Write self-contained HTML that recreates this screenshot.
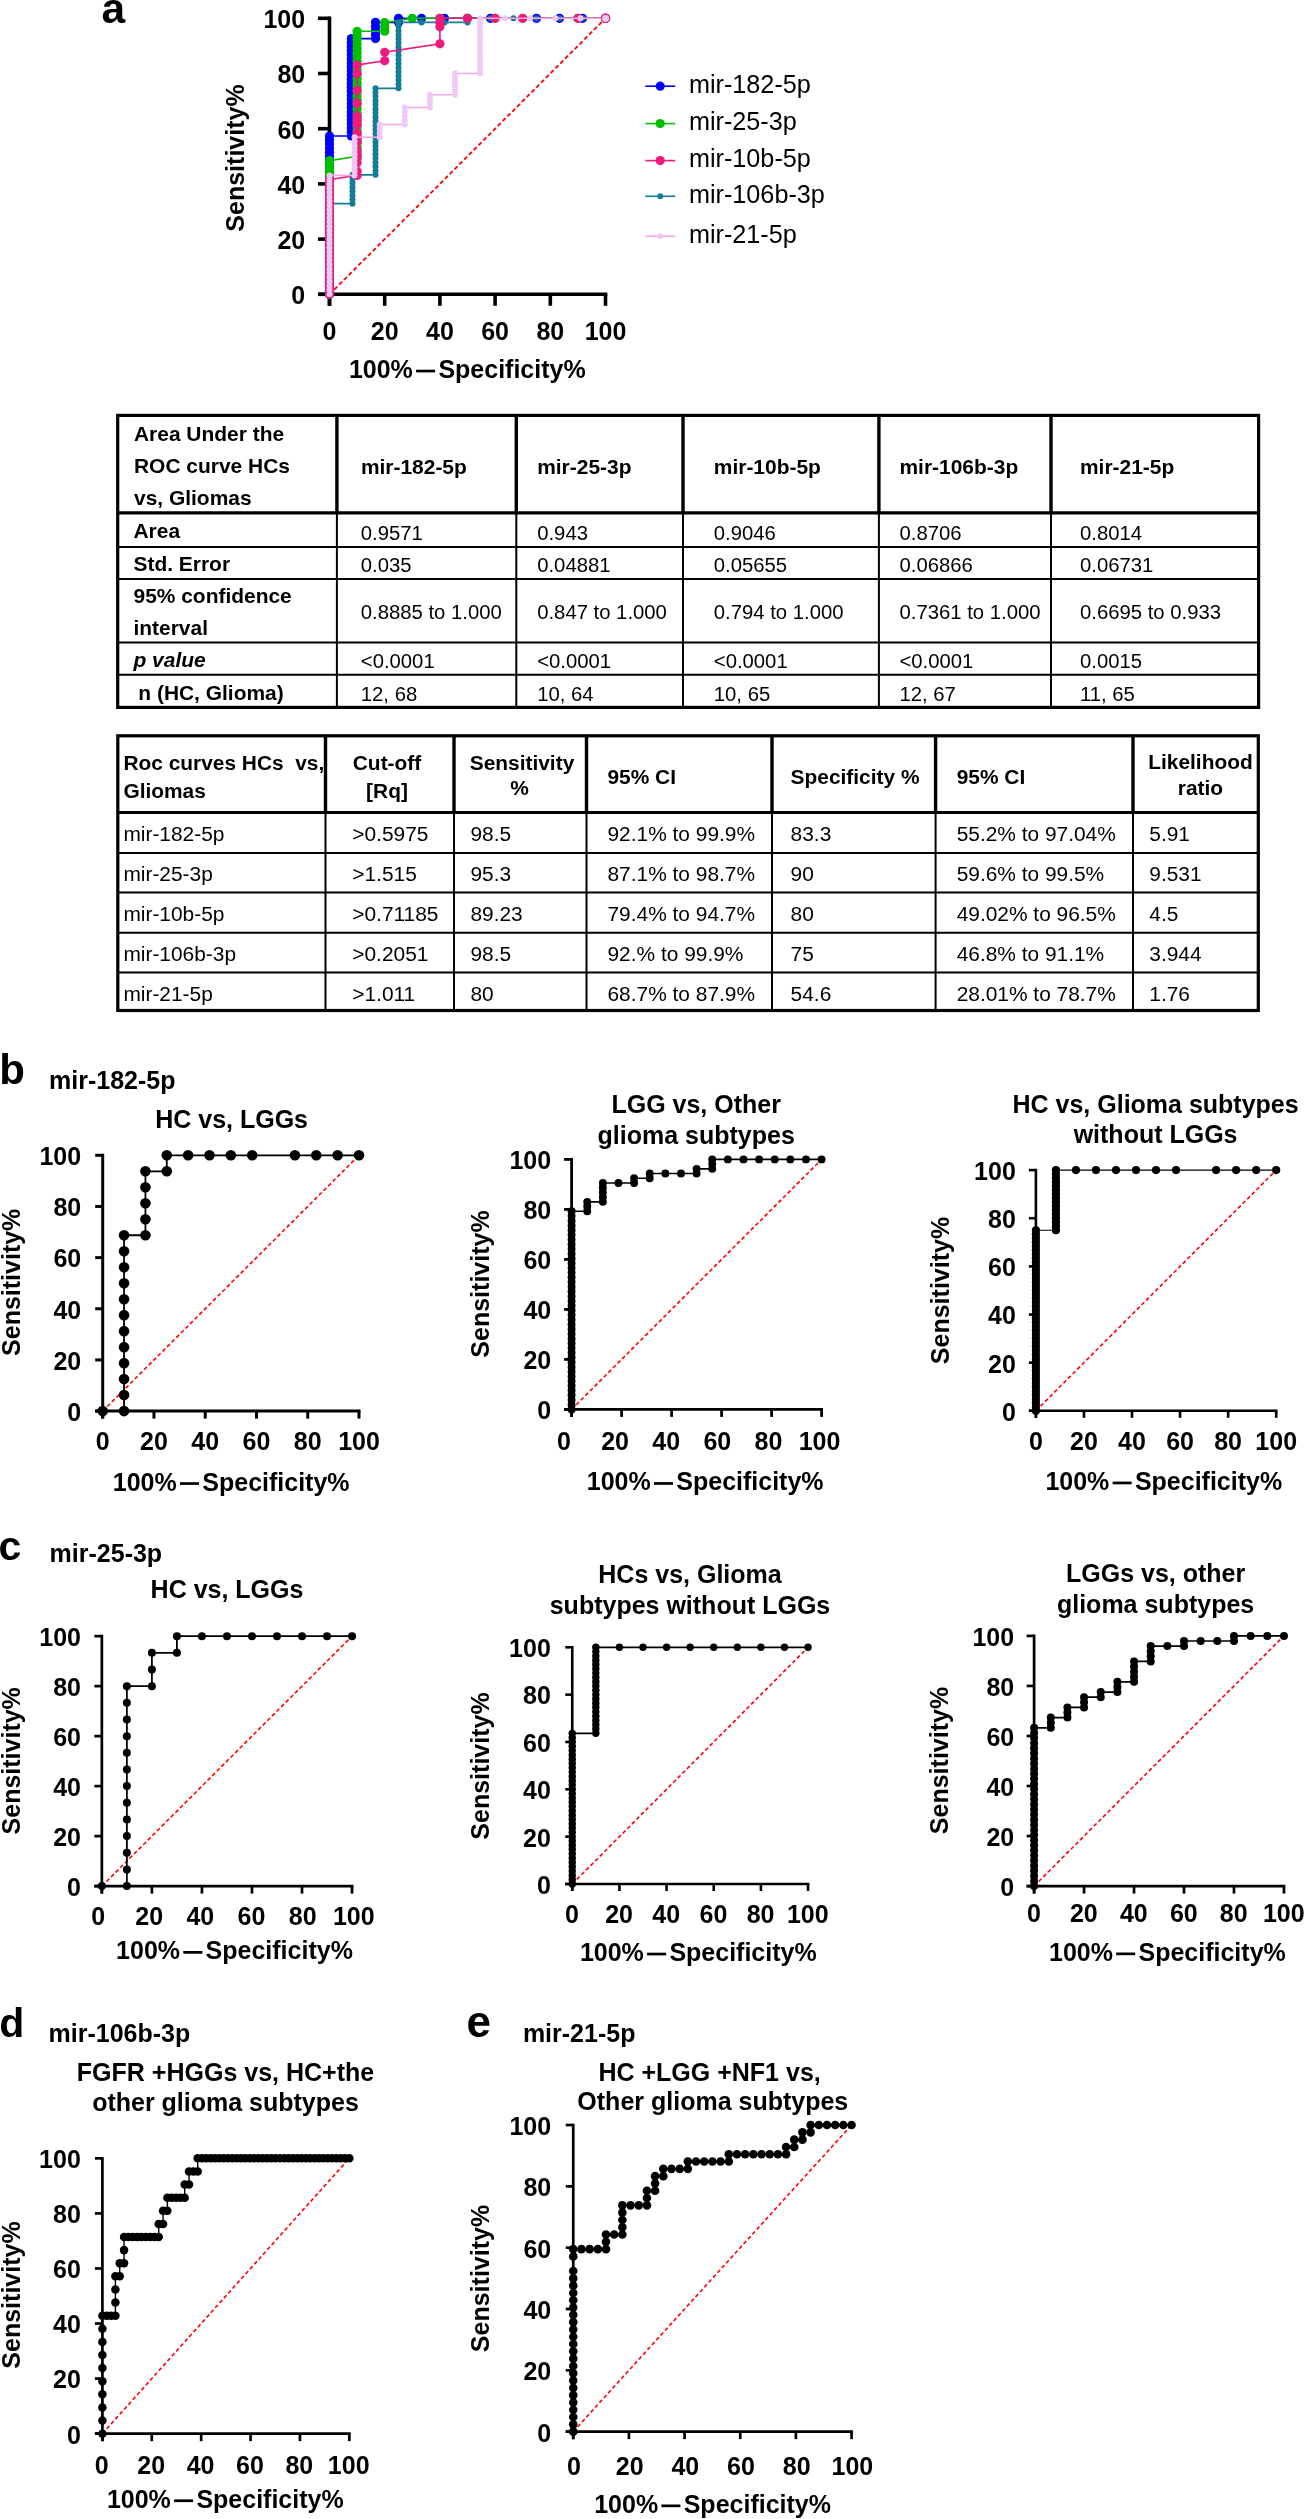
<!DOCTYPE html>
<html><head><meta charset="utf-8"><title>ROC figure</title>
<style>
html,body{margin:0;padding:0;background:#fff;}
body{width:1304px;height:2519px;overflow:hidden;}
svg{display:block;font-family:"Liberation Sans", sans-serif;filter:blur(0.35px);}
</style></head>
<body>
<svg width="1304" height="2519" viewBox="0 0 1304 2519">
<rect width="1304" height="2519" fill="#fff"/>
<text x="101.6" y="23.2" font-size="42.5" font-weight="bold" fill="#000">a</text>
<line x1="329.5" y1="294.3" x2="605.5" y2="18.3" stroke="#ff0000" stroke-width="1.8" stroke-dasharray="4.2,2.6"/>
<line x1="329.5" y1="16.5" x2="329.5" y2="305.8" stroke="#000" stroke-width="3.6" stroke-linecap="butt"/>
<line x1="318" y1="294.3" x2="607.3" y2="294.3" stroke="#000" stroke-width="3.6"/>
<line x1="318" y1="294.3" x2="329.5" y2="294.3" stroke="#000" stroke-width="3.6"/>
<line x1="329.5" y1="294.3" x2="329.5" y2="305.8" stroke="#000" stroke-width="3.6"/>
<line x1="318" y1="239.1" x2="329.5" y2="239.1" stroke="#000" stroke-width="3.6"/>
<line x1="384.7" y1="294.3" x2="384.7" y2="305.8" stroke="#000" stroke-width="3.6"/>
<line x1="318" y1="183.9" x2="329.5" y2="183.9" stroke="#000" stroke-width="3.6"/>
<line x1="439.9" y1="294.3" x2="439.9" y2="305.8" stroke="#000" stroke-width="3.6"/>
<line x1="318" y1="128.7" x2="329.5" y2="128.7" stroke="#000" stroke-width="3.6"/>
<line x1="495.1" y1="294.3" x2="495.1" y2="305.8" stroke="#000" stroke-width="3.6"/>
<line x1="318" y1="73.5" x2="329.5" y2="73.5" stroke="#000" stroke-width="3.6"/>
<line x1="550.3" y1="294.3" x2="550.3" y2="305.8" stroke="#000" stroke-width="3.6"/>
<line x1="318" y1="18.3" x2="329.5" y2="18.3" stroke="#000" stroke-width="3.6"/>
<line x1="605.5" y1="294.3" x2="605.5" y2="305.8" stroke="#000" stroke-width="3.6"/>
<text x="305.2" y="304.15" font-size="25" font-weight="bold" text-anchor="end" fill="#000">0</text>
<text x="305.2" y="248.95" font-size="25" font-weight="bold" text-anchor="end" fill="#000">20</text>
<text x="305.2" y="193.75" font-size="25" font-weight="bold" text-anchor="end" fill="#000">40</text>
<text x="305.2" y="138.55" font-size="25" font-weight="bold" text-anchor="end" fill="#000">60</text>
<text x="305.2" y="83.35" font-size="25" font-weight="bold" text-anchor="end" fill="#000">80</text>
<text x="305.2" y="28.15" font-size="25" font-weight="bold" text-anchor="end" fill="#000">100</text>
<text x="329.5" y="339.5" font-size="25" font-weight="bold" text-anchor="middle" fill="#000">0</text>
<text x="384.7" y="339.5" font-size="25" font-weight="bold" text-anchor="middle" fill="#000">20</text>
<text x="439.9" y="339.5" font-size="25" font-weight="bold" text-anchor="middle" fill="#000">40</text>
<text x="495.1" y="339.5" font-size="25" font-weight="bold" text-anchor="middle" fill="#000">60</text>
<text x="550.3" y="339.5" font-size="25" font-weight="bold" text-anchor="middle" fill="#000">80</text>
<text x="605.5" y="339.5" font-size="25" font-weight="bold" text-anchor="middle" fill="#000">100</text>
<text x="348.9" y="378" font-size="25" font-weight="bold" fill="#000">100%</text>
<rect x="416.1" y="369.7" width="19" height="2.7" fill="#000"/>
<text x="438.4" y="378" font-size="25" font-weight="bold" fill="#000">Specificity%</text>
<text transform="translate(244.3,158) rotate(-90)" x="0" y="0" font-size="25" font-weight="bold" text-anchor="middle">Sensitivity%</text>
<polyline points="329.5,294.3 329.5,290.24 329.5,286.18 329.5,282.12 329.5,278.06 329.5,274.01 329.5,269.95 329.5,265.89 329.5,261.83 329.5,257.77 329.5,253.71 329.5,249.65 329.5,245.59 329.5,241.54 329.5,237.48 329.5,233.42 329.5,229.36 329.5,225.3 329.5,221.24 329.5,217.18 329.5,213.12 329.5,209.06 329.5,205.01 329.5,200.95 329.5,196.89 329.5,192.83 329.5,188.77 329.5,184.71 329.5,180.65 329.5,176.59 329.5,172.54 329.5,168.48 329.5,164.42 329.5,160.36 329.5,156.3 329.5,152.24 329.5,148.18 329.5,144.12 329.5,140.06 329.5,136.01 351.3,136.01 351.3,131.95 351.3,127.89 351.3,123.83 351.3,119.77 351.3,115.71 351.3,111.65 351.3,107.59 351.3,103.54 351.3,99.48 351.3,95.42 351.3,91.36 351.3,87.3 351.3,83.24 351.3,79.18 351.3,75.12 351.3,71.06 351.3,67.01 351.3,62.95 351.3,58.89 351.3,54.83 351.3,50.77 351.3,46.71 351.3,42.65 351.3,38.59 375.5,38.59 375.5,34.54 375.5,30.48 375.5,26.42 375.5,22.36 398.5,22.36 398.5,18.3 421.5,18.3 444.5,18.3 467.5,18.3 490.5,18.3 536.5,18.3 559.5,18.3 582.5,18.3 605.5,18.3" fill="none" stroke="#0000ff" stroke-width="1.6"/>
<g fill="#0000ff"><circle cx="329.5" cy="294.3" r="4.6"/><circle cx="329.5" cy="290.24" r="4.6"/><circle cx="329.5" cy="286.18" r="4.6"/><circle cx="329.5" cy="282.12" r="4.6"/><circle cx="329.5" cy="278.06" r="4.6"/><circle cx="329.5" cy="274.01" r="4.6"/><circle cx="329.5" cy="269.95" r="4.6"/><circle cx="329.5" cy="265.89" r="4.6"/><circle cx="329.5" cy="261.83" r="4.6"/><circle cx="329.5" cy="257.77" r="4.6"/><circle cx="329.5" cy="253.71" r="4.6"/><circle cx="329.5" cy="249.65" r="4.6"/><circle cx="329.5" cy="245.59" r="4.6"/><circle cx="329.5" cy="241.54" r="4.6"/><circle cx="329.5" cy="237.48" r="4.6"/><circle cx="329.5" cy="233.42" r="4.6"/><circle cx="329.5" cy="229.36" r="4.6"/><circle cx="329.5" cy="225.3" r="4.6"/><circle cx="329.5" cy="221.24" r="4.6"/><circle cx="329.5" cy="217.18" r="4.6"/><circle cx="329.5" cy="213.12" r="4.6"/><circle cx="329.5" cy="209.06" r="4.6"/><circle cx="329.5" cy="205.01" r="4.6"/><circle cx="329.5" cy="200.95" r="4.6"/><circle cx="329.5" cy="196.89" r="4.6"/><circle cx="329.5" cy="192.83" r="4.6"/><circle cx="329.5" cy="188.77" r="4.6"/><circle cx="329.5" cy="184.71" r="4.6"/><circle cx="329.5" cy="180.65" r="4.6"/><circle cx="329.5" cy="176.59" r="4.6"/><circle cx="329.5" cy="172.54" r="4.6"/><circle cx="329.5" cy="168.48" r="4.6"/><circle cx="329.5" cy="164.42" r="4.6"/><circle cx="329.5" cy="160.36" r="4.6"/><circle cx="329.5" cy="156.3" r="4.6"/><circle cx="329.5" cy="152.24" r="4.6"/><circle cx="329.5" cy="148.18" r="4.6"/><circle cx="329.5" cy="144.12" r="4.6"/><circle cx="329.5" cy="140.06" r="4.6"/><circle cx="329.5" cy="136.01" r="4.6"/><circle cx="351.3" cy="136.01" r="4.6"/><circle cx="351.3" cy="131.95" r="4.6"/><circle cx="351.3" cy="127.89" r="4.6"/><circle cx="351.3" cy="123.83" r="4.6"/><circle cx="351.3" cy="119.77" r="4.6"/><circle cx="351.3" cy="115.71" r="4.6"/><circle cx="351.3" cy="111.65" r="4.6"/><circle cx="351.3" cy="107.59" r="4.6"/><circle cx="351.3" cy="103.54" r="4.6"/><circle cx="351.3" cy="99.48" r="4.6"/><circle cx="351.3" cy="95.42" r="4.6"/><circle cx="351.3" cy="91.36" r="4.6"/><circle cx="351.3" cy="87.3" r="4.6"/><circle cx="351.3" cy="83.24" r="4.6"/><circle cx="351.3" cy="79.18" r="4.6"/><circle cx="351.3" cy="75.12" r="4.6"/><circle cx="351.3" cy="71.06" r="4.6"/><circle cx="351.3" cy="67.01" r="4.6"/><circle cx="351.3" cy="62.95" r="4.6"/><circle cx="351.3" cy="58.89" r="4.6"/><circle cx="351.3" cy="54.83" r="4.6"/><circle cx="351.3" cy="50.77" r="4.6"/><circle cx="351.3" cy="46.71" r="4.6"/><circle cx="351.3" cy="42.65" r="4.6"/><circle cx="351.3" cy="38.59" r="4.6"/><circle cx="375.5" cy="38.59" r="4.6"/><circle cx="375.5" cy="34.54" r="4.6"/><circle cx="375.5" cy="30.48" r="4.6"/><circle cx="375.5" cy="26.42" r="4.6"/><circle cx="375.5" cy="22.36" r="4.6"/><circle cx="398.5" cy="22.36" r="4.6"/><circle cx="398.5" cy="18.3" r="4.6"/><circle cx="421.5" cy="18.3" r="4.6"/><circle cx="444.5" cy="18.3" r="4.6"/><circle cx="467.5" cy="18.3" r="4.6"/><circle cx="490.5" cy="18.3" r="4.6"/><circle cx="536.5" cy="18.3" r="4.6"/><circle cx="559.5" cy="18.3" r="4.6"/><circle cx="582.5" cy="18.3" r="4.6"/><circle cx="605.5" cy="18.3" r="4.6"/></g>
<polyline points="329.5,294.3 329.5,289.99 329.5,285.68 329.5,281.36 329.5,277.05 329.5,272.74 329.5,268.43 329.5,264.11 329.5,259.8 329.5,255.49 329.5,251.18 329.5,246.86 329.5,242.55 329.5,238.24 329.5,233.93 329.5,229.61 329.5,225.3 329.5,220.99 329.5,216.68 329.5,212.36 329.5,208.05 329.5,203.74 329.5,199.43 329.5,195.11 329.5,190.8 329.5,186.49 329.5,182.18 329.5,177.86 329.5,173.55 329.5,169.24 329.5,164.93 329.5,160.61 357.1,156.3 357.1,151.99 357.1,147.68 357.1,143.36 357.1,139.05 357.1,134.74 357.1,130.43 357.1,126.11 357.1,121.8 357.1,117.49 357.1,113.18 357.1,108.86 357.1,104.55 357.1,100.24 357.1,95.93 357.1,91.61 357.1,87.3 357.1,82.99 357.1,78.68 357.1,74.36 357.1,70.05 357.1,65.74 357.1,61.43 357.1,57.11 357.1,52.8 357.1,48.49 357.1,44.18 357.1,39.86 357.1,35.55 357.1,31.24 384.7,31.24 384.7,26.93 384.7,22.61 412.3,18.3 439.9,18.3 467.5,18.3 495.1,18.3 522.7,18.3 577.9,18.3 605.5,18.3" fill="none" stroke="#00c000" stroke-width="1.6"/>
<g fill="#00c000"><circle cx="329.5" cy="294.3" r="4.6"/><circle cx="329.5" cy="289.99" r="4.6"/><circle cx="329.5" cy="285.68" r="4.6"/><circle cx="329.5" cy="281.36" r="4.6"/><circle cx="329.5" cy="277.05" r="4.6"/><circle cx="329.5" cy="272.74" r="4.6"/><circle cx="329.5" cy="268.43" r="4.6"/><circle cx="329.5" cy="264.11" r="4.6"/><circle cx="329.5" cy="259.8" r="4.6"/><circle cx="329.5" cy="255.49" r="4.6"/><circle cx="329.5" cy="251.18" r="4.6"/><circle cx="329.5" cy="246.86" r="4.6"/><circle cx="329.5" cy="242.55" r="4.6"/><circle cx="329.5" cy="238.24" r="4.6"/><circle cx="329.5" cy="233.93" r="4.6"/><circle cx="329.5" cy="229.61" r="4.6"/><circle cx="329.5" cy="225.3" r="4.6"/><circle cx="329.5" cy="220.99" r="4.6"/><circle cx="329.5" cy="216.68" r="4.6"/><circle cx="329.5" cy="212.36" r="4.6"/><circle cx="329.5" cy="208.05" r="4.6"/><circle cx="329.5" cy="203.74" r="4.6"/><circle cx="329.5" cy="199.43" r="4.6"/><circle cx="329.5" cy="195.11" r="4.6"/><circle cx="329.5" cy="190.8" r="4.6"/><circle cx="329.5" cy="186.49" r="4.6"/><circle cx="329.5" cy="182.18" r="4.6"/><circle cx="329.5" cy="177.86" r="4.6"/><circle cx="329.5" cy="173.55" r="4.6"/><circle cx="329.5" cy="169.24" r="4.6"/><circle cx="329.5" cy="164.93" r="4.6"/><circle cx="329.5" cy="160.61" r="4.6"/><circle cx="357.1" cy="156.3" r="4.6"/><circle cx="357.1" cy="151.99" r="4.6"/><circle cx="357.1" cy="147.68" r="4.6"/><circle cx="357.1" cy="143.36" r="4.6"/><circle cx="357.1" cy="139.05" r="4.6"/><circle cx="357.1" cy="134.74" r="4.6"/><circle cx="357.1" cy="130.43" r="4.6"/><circle cx="357.1" cy="126.11" r="4.6"/><circle cx="357.1" cy="121.8" r="4.6"/><circle cx="357.1" cy="117.49" r="4.6"/><circle cx="357.1" cy="113.18" r="4.6"/><circle cx="357.1" cy="108.86" r="4.6"/><circle cx="357.1" cy="104.55" r="4.6"/><circle cx="357.1" cy="100.24" r="4.6"/><circle cx="357.1" cy="95.93" r="4.6"/><circle cx="357.1" cy="91.61" r="4.6"/><circle cx="357.1" cy="87.3" r="4.6"/><circle cx="357.1" cy="82.99" r="4.6"/><circle cx="357.1" cy="78.68" r="4.6"/><circle cx="357.1" cy="74.36" r="4.6"/><circle cx="357.1" cy="70.05" r="4.6"/><circle cx="357.1" cy="65.74" r="4.6"/><circle cx="357.1" cy="61.43" r="4.6"/><circle cx="357.1" cy="57.11" r="4.6"/><circle cx="357.1" cy="52.8" r="4.6"/><circle cx="357.1" cy="48.49" r="4.6"/><circle cx="357.1" cy="44.18" r="4.6"/><circle cx="357.1" cy="39.86" r="4.6"/><circle cx="357.1" cy="35.55" r="4.6"/><circle cx="357.1" cy="31.24" r="4.6"/><circle cx="384.7" cy="31.24" r="4.6"/><circle cx="384.7" cy="26.93" r="4.6"/><circle cx="384.7" cy="22.61" r="4.6"/><circle cx="412.3" cy="18.3" r="4.6"/><circle cx="439.9" cy="18.3" r="4.6"/><circle cx="467.5" cy="18.3" r="4.6"/><circle cx="495.1" cy="18.3" r="4.6"/><circle cx="522.7" cy="18.3" r="4.6"/><circle cx="577.9" cy="18.3" r="4.6"/><circle cx="605.5" cy="18.3" r="4.6"/></g>
<polyline points="329.5,294.3 329.5,290.18 329.5,286.06 329.5,281.94 329.5,277.82 329.5,273.7 329.5,269.58 329.5,265.46 329.5,261.34 329.5,257.23 329.5,253.11 329.5,248.99 329.5,244.87 329.5,240.75 329.5,236.63 329.5,232.51 329.5,228.39 329.5,224.27 329.5,220.15 329.5,216.03 329.5,211.91 329.5,207.79 329.5,203.67 352.5,203.67 352.5,199.55 352.5,195.43 352.5,191.31 352.5,187.2 352.5,183.08 352.5,178.96 352.5,174.84 375.5,174.84 375.5,170.72 375.5,166.6 375.5,162.48 375.5,158.36 375.5,154.24 375.5,150.12 375.5,146 375.5,141.88 375.5,137.76 375.5,133.64 375.5,129.52 375.5,125.4 375.5,121.29 375.5,117.17 375.5,113.05 375.5,108.93 375.5,104.81 375.5,100.69 375.5,96.57 375.5,92.45 375.5,88.33 398.5,88.33 398.5,84.21 398.5,80.09 398.5,75.97 398.5,71.85 398.5,67.73 398.5,63.61 398.5,59.49 398.5,55.37 398.5,51.26 398.5,47.14 398.5,43.02 398.5,38.9 398.5,34.78 398.5,30.66 398.5,26.54 398.5,22.42 421.5,22.42 444.5,22.42 467.5,22.42 467.5,18.3 490.5,18.3 513.5,18.3 536.5,18.3 559.5,18.3 582.5,18.3 605.5,18.3" fill="none" stroke="#127d94" stroke-width="1.6"/>
<g fill="#127d94"><circle cx="329.5" cy="294.3" r="3"/><circle cx="329.5" cy="290.18" r="3"/><circle cx="329.5" cy="286.06" r="3"/><circle cx="329.5" cy="281.94" r="3"/><circle cx="329.5" cy="277.82" r="3"/><circle cx="329.5" cy="273.7" r="3"/><circle cx="329.5" cy="269.58" r="3"/><circle cx="329.5" cy="265.46" r="3"/><circle cx="329.5" cy="261.34" r="3"/><circle cx="329.5" cy="257.23" r="3"/><circle cx="329.5" cy="253.11" r="3"/><circle cx="329.5" cy="248.99" r="3"/><circle cx="329.5" cy="244.87" r="3"/><circle cx="329.5" cy="240.75" r="3"/><circle cx="329.5" cy="236.63" r="3"/><circle cx="329.5" cy="232.51" r="3"/><circle cx="329.5" cy="228.39" r="3"/><circle cx="329.5" cy="224.27" r="3"/><circle cx="329.5" cy="220.15" r="3"/><circle cx="329.5" cy="216.03" r="3"/><circle cx="329.5" cy="211.91" r="3"/><circle cx="329.5" cy="207.79" r="3"/><circle cx="329.5" cy="203.67" r="3"/><circle cx="352.5" cy="203.67" r="3"/><circle cx="352.5" cy="199.55" r="3"/><circle cx="352.5" cy="195.43" r="3"/><circle cx="352.5" cy="191.31" r="3"/><circle cx="352.5" cy="187.2" r="3"/><circle cx="352.5" cy="183.08" r="3"/><circle cx="352.5" cy="178.96" r="3"/><circle cx="352.5" cy="174.84" r="3"/><circle cx="375.5" cy="174.84" r="3"/><circle cx="375.5" cy="170.72" r="3"/><circle cx="375.5" cy="166.6" r="3"/><circle cx="375.5" cy="162.48" r="3"/><circle cx="375.5" cy="158.36" r="3"/><circle cx="375.5" cy="154.24" r="3"/><circle cx="375.5" cy="150.12" r="3"/><circle cx="375.5" cy="146" r="3"/><circle cx="375.5" cy="141.88" r="3"/><circle cx="375.5" cy="137.76" r="3"/><circle cx="375.5" cy="133.64" r="3"/><circle cx="375.5" cy="129.52" r="3"/><circle cx="375.5" cy="125.4" r="3"/><circle cx="375.5" cy="121.29" r="3"/><circle cx="375.5" cy="117.17" r="3"/><circle cx="375.5" cy="113.05" r="3"/><circle cx="375.5" cy="108.93" r="3"/><circle cx="375.5" cy="104.81" r="3"/><circle cx="375.5" cy="100.69" r="3"/><circle cx="375.5" cy="96.57" r="3"/><circle cx="375.5" cy="92.45" r="3"/><circle cx="375.5" cy="88.33" r="3"/><circle cx="398.5" cy="88.33" r="3"/><circle cx="398.5" cy="84.21" r="3"/><circle cx="398.5" cy="80.09" r="3"/><circle cx="398.5" cy="75.97" r="3"/><circle cx="398.5" cy="71.85" r="3"/><circle cx="398.5" cy="67.73" r="3"/><circle cx="398.5" cy="63.61" r="3"/><circle cx="398.5" cy="59.49" r="3"/><circle cx="398.5" cy="55.37" r="3"/><circle cx="398.5" cy="51.26" r="3"/><circle cx="398.5" cy="47.14" r="3"/><circle cx="398.5" cy="43.02" r="3"/><circle cx="398.5" cy="38.9" r="3"/><circle cx="398.5" cy="34.78" r="3"/><circle cx="398.5" cy="30.66" r="3"/><circle cx="398.5" cy="26.54" r="3"/><circle cx="398.5" cy="22.42" r="3"/><circle cx="421.5" cy="22.42" r="3"/><circle cx="444.5" cy="22.42" r="3"/><circle cx="467.5" cy="22.42" r="3"/><circle cx="467.5" cy="18.3" r="3"/><circle cx="490.5" cy="18.3" r="3"/><circle cx="513.5" cy="18.3" r="3"/><circle cx="536.5" cy="18.3" r="3"/><circle cx="559.5" cy="18.3" r="3"/><circle cx="582.5" cy="18.3" r="3"/><circle cx="605.5" cy="18.3" r="3"/></g>
<polyline points="329.5,294.3 329.5,290.05 329.5,285.81 329.5,281.56 329.5,277.32 329.5,273.07 329.5,268.82 329.5,264.58 329.5,260.33 329.5,256.08 329.5,251.84 329.5,247.59 329.5,243.35 329.5,239.1 329.5,234.85 329.5,230.61 329.5,226.36 329.5,222.12 329.5,217.87 329.5,213.62 329.5,209.38 329.5,205.13 329.5,200.88 329.5,196.64 329.5,192.39 329.5,188.15 329.5,183.9 329.5,179.65 357.1,175.41 357.1,171.16 357.1,162.67 357.1,158.42 357.1,154.18 357.1,149.93 357.1,141.44 357.1,137.19 357.1,132.95 357.1,124.45 357.1,120.21 357.1,115.96 357.1,103.22 357.1,90.48 357.1,73.5 357.1,65.01 384.7,60.76 384.7,52.27 439.9,43.78 439.9,26.79 439.9,22.55 439.9,18.3 467.5,18.3 495.1,18.3 522.7,18.3 577.9,18.3 605.5,18.3" fill="none" stroke="#f0197d" stroke-width="1.6"/>
<g fill="#f0197d"><circle cx="329.5" cy="294.3" r="4.6"/><circle cx="329.5" cy="290.05" r="4.6"/><circle cx="329.5" cy="285.81" r="4.6"/><circle cx="329.5" cy="281.56" r="4.6"/><circle cx="329.5" cy="277.32" r="4.6"/><circle cx="329.5" cy="273.07" r="4.6"/><circle cx="329.5" cy="268.82" r="4.6"/><circle cx="329.5" cy="264.58" r="4.6"/><circle cx="329.5" cy="260.33" r="4.6"/><circle cx="329.5" cy="256.08" r="4.6"/><circle cx="329.5" cy="251.84" r="4.6"/><circle cx="329.5" cy="247.59" r="4.6"/><circle cx="329.5" cy="243.35" r="4.6"/><circle cx="329.5" cy="239.1" r="4.6"/><circle cx="329.5" cy="234.85" r="4.6"/><circle cx="329.5" cy="230.61" r="4.6"/><circle cx="329.5" cy="226.36" r="4.6"/><circle cx="329.5" cy="222.12" r="4.6"/><circle cx="329.5" cy="217.87" r="4.6"/><circle cx="329.5" cy="213.62" r="4.6"/><circle cx="329.5" cy="209.38" r="4.6"/><circle cx="329.5" cy="205.13" r="4.6"/><circle cx="329.5" cy="200.88" r="4.6"/><circle cx="329.5" cy="196.64" r="4.6"/><circle cx="329.5" cy="192.39" r="4.6"/><circle cx="329.5" cy="188.15" r="4.6"/><circle cx="329.5" cy="183.9" r="4.6"/><circle cx="329.5" cy="179.65" r="4.6"/><circle cx="357.1" cy="175.41" r="4.6"/><circle cx="357.1" cy="171.16" r="4.6"/><circle cx="357.1" cy="162.67" r="4.6"/><circle cx="357.1" cy="158.42" r="4.6"/><circle cx="357.1" cy="154.18" r="4.6"/><circle cx="357.1" cy="149.93" r="4.6"/><circle cx="357.1" cy="141.44" r="4.6"/><circle cx="357.1" cy="137.19" r="4.6"/><circle cx="357.1" cy="132.95" r="4.6"/><circle cx="357.1" cy="124.45" r="4.6"/><circle cx="357.1" cy="120.21" r="4.6"/><circle cx="357.1" cy="115.96" r="4.6"/><circle cx="357.1" cy="103.22" r="4.6"/><circle cx="357.1" cy="90.48" r="4.6"/><circle cx="357.1" cy="73.5" r="4.6"/><circle cx="357.1" cy="65.01" r="4.6"/><circle cx="384.7" cy="60.76" r="4.6"/><circle cx="384.7" cy="52.27" r="4.6"/><circle cx="439.9" cy="43.78" r="4.6"/><circle cx="439.9" cy="26.79" r="4.6"/><circle cx="439.9" cy="22.55" r="4.6"/><circle cx="439.9" cy="18.3" r="4.6"/><circle cx="467.5" cy="18.3" r="4.6"/><circle cx="495.1" cy="18.3" r="4.6"/><circle cx="522.7" cy="18.3" r="4.6"/><circle cx="577.9" cy="18.3" r="4.6"/><circle cx="605.5" cy="18.3" r="4.6"/></g>
<polyline points="329.5,294.3 329.5,290.05 329.5,285.81 329.5,281.56 329.5,277.32 329.5,273.07 329.5,268.82 329.5,264.58 329.5,260.33 329.5,256.08 329.5,251.84 329.5,247.59 329.5,243.35 329.5,239.1 329.5,234.85 329.5,230.61 329.5,226.36 329.5,222.12 329.5,217.87 329.5,213.62 329.5,209.38 329.5,205.13 329.5,200.88 329.5,196.64 329.5,192.39 329.5,188.15 329.5,183.9 329.5,179.65 329.5,175.41 354.59,175.41 354.59,171.16 354.59,166.92 354.59,162.67 354.59,158.42 354.59,154.18 354.59,149.93 354.59,145.68 354.59,141.44 354.59,137.19 379.68,137.19 379.68,132.95 379.68,128.7 379.68,124.45 404.77,124.45 404.77,120.21 404.77,115.96 404.77,111.72 404.77,107.47 429.86,107.47 429.86,103.22 429.86,98.98 429.86,94.73 454.95,94.73 454.95,90.48 454.95,86.24 454.95,81.99 454.95,77.75 454.95,73.5 480.05,73.5 480.05,69.25 480.05,65.01 480.05,60.76 480.05,56.52 480.05,52.27 480.05,48.02 480.05,43.78 480.05,39.53 480.05,35.28 480.05,31.04 480.05,26.79 480.05,22.55 480.05,18.3 505.14,18.3 530.23,18.3 555.32,18.3 580.41,18.3 605.5,18.3" fill="none" stroke="#f4a6e4" stroke-width="1.6"/>
<g fill="#f0c8f5"><circle cx="329.5" cy="294.3" r="3"/><circle cx="329.5" cy="290.05" r="3"/><circle cx="329.5" cy="285.81" r="3"/><circle cx="329.5" cy="281.56" r="3"/><circle cx="329.5" cy="277.32" r="3"/><circle cx="329.5" cy="273.07" r="3"/><circle cx="329.5" cy="268.82" r="3"/><circle cx="329.5" cy="264.58" r="3"/><circle cx="329.5" cy="260.33" r="3"/><circle cx="329.5" cy="256.08" r="3"/><circle cx="329.5" cy="251.84" r="3"/><circle cx="329.5" cy="247.59" r="3"/><circle cx="329.5" cy="243.35" r="3"/><circle cx="329.5" cy="239.1" r="3"/><circle cx="329.5" cy="234.85" r="3"/><circle cx="329.5" cy="230.61" r="3"/><circle cx="329.5" cy="226.36" r="3"/><circle cx="329.5" cy="222.12" r="3"/><circle cx="329.5" cy="217.87" r="3"/><circle cx="329.5" cy="213.62" r="3"/><circle cx="329.5" cy="209.38" r="3"/><circle cx="329.5" cy="205.13" r="3"/><circle cx="329.5" cy="200.88" r="3"/><circle cx="329.5" cy="196.64" r="3"/><circle cx="329.5" cy="192.39" r="3"/><circle cx="329.5" cy="188.15" r="3"/><circle cx="329.5" cy="183.9" r="3"/><circle cx="329.5" cy="179.65" r="3"/><circle cx="329.5" cy="175.41" r="3"/><circle cx="354.59" cy="175.41" r="3"/><circle cx="354.59" cy="171.16" r="3"/><circle cx="354.59" cy="166.92" r="3"/><circle cx="354.59" cy="162.67" r="3"/><circle cx="354.59" cy="158.42" r="3"/><circle cx="354.59" cy="154.18" r="3"/><circle cx="354.59" cy="149.93" r="3"/><circle cx="354.59" cy="145.68" r="3"/><circle cx="354.59" cy="141.44" r="3"/><circle cx="354.59" cy="137.19" r="3"/><circle cx="379.68" cy="137.19" r="3"/><circle cx="379.68" cy="132.95" r="3"/><circle cx="379.68" cy="128.7" r="3"/><circle cx="379.68" cy="124.45" r="3"/><circle cx="404.77" cy="124.45" r="3"/><circle cx="404.77" cy="120.21" r="3"/><circle cx="404.77" cy="115.96" r="3"/><circle cx="404.77" cy="111.72" r="3"/><circle cx="404.77" cy="107.47" r="3"/><circle cx="429.86" cy="107.47" r="3"/><circle cx="429.86" cy="103.22" r="3"/><circle cx="429.86" cy="98.98" r="3"/><circle cx="429.86" cy="94.73" r="3"/><circle cx="454.95" cy="94.73" r="3"/><circle cx="454.95" cy="90.48" r="3"/><circle cx="454.95" cy="86.24" r="3"/><circle cx="454.95" cy="81.99" r="3"/><circle cx="454.95" cy="77.75" r="3"/><circle cx="454.95" cy="73.5" r="3"/><circle cx="480.05" cy="73.5" r="3"/><circle cx="480.05" cy="69.25" r="3"/><circle cx="480.05" cy="65.01" r="3"/><circle cx="480.05" cy="60.76" r="3"/><circle cx="480.05" cy="56.52" r="3"/><circle cx="480.05" cy="52.27" r="3"/><circle cx="480.05" cy="48.02" r="3"/><circle cx="480.05" cy="43.78" r="3"/><circle cx="480.05" cy="39.53" r="3"/><circle cx="480.05" cy="35.28" r="3"/><circle cx="480.05" cy="31.04" r="3"/><circle cx="480.05" cy="26.79" r="3"/><circle cx="480.05" cy="22.55" r="3"/><circle cx="480.05" cy="18.3" r="3"/><circle cx="505.14" cy="18.3" r="3"/><circle cx="530.23" cy="18.3" r="3"/><circle cx="555.32" cy="18.3" r="3"/><circle cx="580.41" cy="18.3" r="3"/><circle cx="605.5" cy="18.3" r="3"/></g>
<circle cx="605.5" cy="18.3" r="4.2" fill="#f0c8f5" stroke="#f0197d" stroke-width="1.2"/>
<line x1="645.3" y1="86.2" x2="675.2" y2="86.2" stroke="#0000ff" stroke-width="1.6"/>
<circle cx="660.2" cy="86.2" r="4.6" fill="#0000ff"/>
<text x="689" y="93" font-size="25.2" fill="#000">mir-182-5p</text>
<line x1="645.3" y1="123.6" x2="675.2" y2="123.6" stroke="#00c000" stroke-width="1.6"/>
<circle cx="660.2" cy="123.6" r="4.6" fill="#00c000"/>
<text x="689" y="130.4" font-size="25.2" fill="#000">mir-25-3p</text>
<line x1="645.3" y1="160.6" x2="675.2" y2="160.6" stroke="#f0197d" stroke-width="1.6"/>
<circle cx="660.2" cy="160.6" r="4.6" fill="#f0197d"/>
<text x="689" y="167.4" font-size="25.2" fill="#000">mir-10b-5p</text>
<line x1="645.3" y1="196.3" x2="675.2" y2="196.3" stroke="#127d94" stroke-width="1.6"/>
<circle cx="660.2" cy="196.3" r="3" fill="#127d94"/>
<text x="689" y="203.1" font-size="25.2" fill="#000">mir-106b-3p</text>
<line x1="645.3" y1="236.3" x2="675.2" y2="236.3" stroke="#f4a6e4" stroke-width="1.6"/>
<circle cx="660.2" cy="236.3" r="3" fill="#f0c8f5"/>
<text x="689" y="243.1" font-size="25.2" fill="#000">mir-21-5p</text>
<line x1="336.9" y1="512.9" x2="336.9" y2="707.4" stroke="#000" stroke-width="2"/>
<line x1="516.3" y1="512.9" x2="516.3" y2="707.4" stroke="#000" stroke-width="2"/>
<line x1="683" y1="512.9" x2="683" y2="707.4" stroke="#000" stroke-width="2"/>
<line x1="878.9" y1="512.9" x2="878.9" y2="707.4" stroke="#000" stroke-width="2"/>
<line x1="1051" y1="512.9" x2="1051" y2="707.4" stroke="#000" stroke-width="2"/>
<line x1="117.7" y1="547.1" x2="1258.6" y2="547.1" stroke="#000" stroke-width="2"/>
<line x1="117.7" y1="579" x2="1258.6" y2="579" stroke="#000" stroke-width="2"/>
<line x1="117.7" y1="642.4" x2="1258.6" y2="642.4" stroke="#000" stroke-width="2"/>
<line x1="117.7" y1="674.7" x2="1258.6" y2="674.7" stroke="#000" stroke-width="2"/>
<line x1="336.9" y1="415.4" x2="336.9" y2="512.9" stroke="#000" stroke-width="3.4"/>
<line x1="516.3" y1="415.4" x2="516.3" y2="512.9" stroke="#000" stroke-width="3.4"/>
<line x1="683" y1="415.4" x2="683" y2="512.9" stroke="#000" stroke-width="3.4"/>
<line x1="878.9" y1="415.4" x2="878.9" y2="512.9" stroke="#000" stroke-width="3.4"/>
<line x1="1051" y1="415.4" x2="1051" y2="512.9" stroke="#000" stroke-width="3.4"/>
<line x1="117.7" y1="512.9" x2="1258.6" y2="512.9" stroke="#000" stroke-width="3.2"/>
<rect x="117.7" y="415.4" width="1140.9" height="292" fill="none" stroke="#000" stroke-width="3.2"/>
<text x="134" y="441" font-size="20.95" font-weight="bold" fill="#000">Area Under the</text>
<text x="134" y="472.8" font-size="20.95" font-weight="bold" fill="#000">ROC curve HCs</text>
<text x="134" y="504.6" font-size="20.95" font-weight="bold" fill="#000">vs, Gliomas</text>
<text x="360.9" y="473.5" font-size="20.95" font-weight="bold" fill="#000">mir-182-5p</text>
<text x="537.2" y="473.5" font-size="20.95" font-weight="bold" fill="#000">mir-25-3p</text>
<text x="713.8" y="473.5" font-size="20.95" font-weight="bold" fill="#000">mir-10b-5p</text>
<text x="899.5" y="473.5" font-size="20.95" font-weight="bold" fill="#000">mir-106b-3p</text>
<text x="1080" y="473.5" font-size="20.95" font-weight="bold" fill="#000">mir-21-5p</text>
<text x="133.5" y="538" font-size="20.95" font-weight="bold" fill="#000">Area</text>
<text x="133.5" y="571.2" font-size="20.95" font-weight="bold" fill="#000">Std. Error</text>
<text x="133.5" y="603.4" font-size="20.95" font-weight="bold" fill="#000">95% confidence</text>
<text x="133.5" y="634.7" font-size="20.95" font-weight="bold" fill="#000">interval</text>
<text x="133.5" y="667" font-size="20.95" font-weight="bold" font-style="italic" fill="#000">p value</text>
<text x="138.3" y="700" font-size="20.95" font-weight="bold" fill="#000">n (HC, Glioma)</text>
<text x="360.8" y="539.9" font-size="20.3" fill="#000">0.9571</text>
<text x="537.2" y="539.9" font-size="20.3" fill="#000">0.943</text>
<text x="713.8" y="539.9" font-size="20.3" fill="#000">0.9046</text>
<text x="899.5" y="539.9" font-size="20.3" fill="#000">0.8706</text>
<text x="1080" y="539.9" font-size="20.3" fill="#000">0.8014</text>
<text x="360.8" y="571.5" font-size="20.3" fill="#000">0.035</text>
<text x="537.2" y="571.5" font-size="20.3" fill="#000">0.04881</text>
<text x="713.8" y="571.5" font-size="20.3" fill="#000">0.05655</text>
<text x="899.5" y="571.5" font-size="20.3" fill="#000">0.06866</text>
<text x="1080" y="571.5" font-size="20.3" fill="#000">0.06731</text>
<text x="360.8" y="619" font-size="20.3" fill="#000">0.8885 to 1.000</text>
<text x="537.2" y="619" font-size="20.3" fill="#000">0.847 to 1.000</text>
<text x="713.8" y="619" font-size="20.3" fill="#000">0.794 to 1.000</text>
<text x="899.5" y="619" font-size="20.3" fill="#000">0.7361 to 1.000</text>
<text x="1080" y="619" font-size="20.3" fill="#000">0.6695 to 0.933</text>
<text x="360.8" y="668.1" font-size="20.3" fill="#000">&lt;0.0001</text>
<text x="537.2" y="668.1" font-size="20.3" fill="#000">&lt;0.0001</text>
<text x="713.8" y="668.1" font-size="20.3" fill="#000">&lt;0.0001</text>
<text x="899.5" y="668.1" font-size="20.3" fill="#000">&lt;0.0001</text>
<text x="1080" y="668.1" font-size="20.3" fill="#000">0.0015</text>
<text x="360.8" y="700.5" font-size="20.3" fill="#000">12, 68</text>
<text x="537.2" y="700.5" font-size="20.3" fill="#000">10, 64</text>
<text x="713.8" y="700.5" font-size="20.3" fill="#000">10, 65</text>
<text x="899.5" y="700.5" font-size="20.3" fill="#000">12, 67</text>
<text x="1080" y="700.5" font-size="20.3" fill="#000">11, 65</text>
<line x1="325.5" y1="812.5" x2="325.5" y2="1010.5" stroke="#000" stroke-width="2"/>
<line x1="454" y1="812.5" x2="454" y2="1010.5" stroke="#000" stroke-width="2"/>
<line x1="586.5" y1="812.5" x2="586.5" y2="1010.5" stroke="#000" stroke-width="2"/>
<line x1="772" y1="812.5" x2="772" y2="1010.5" stroke="#000" stroke-width="2"/>
<line x1="935.6" y1="812.5" x2="935.6" y2="1010.5" stroke="#000" stroke-width="2"/>
<line x1="1133" y1="812.5" x2="1133" y2="1010.5" stroke="#000" stroke-width="2"/>
<line x1="117.8" y1="853" x2="1258.3" y2="853" stroke="#000" stroke-width="2"/>
<line x1="117.8" y1="892.6" x2="1258.3" y2="892.6" stroke="#000" stroke-width="2"/>
<line x1="117.8" y1="932.8" x2="1258.3" y2="932.8" stroke="#000" stroke-width="2"/>
<line x1="117.8" y1="972.4" x2="1258.3" y2="972.4" stroke="#000" stroke-width="2"/>
<line x1="325.5" y1="735.8" x2="325.5" y2="812.5" stroke="#000" stroke-width="3.4"/>
<line x1="454" y1="735.8" x2="454" y2="812.5" stroke="#000" stroke-width="3.4"/>
<line x1="586.5" y1="735.8" x2="586.5" y2="812.5" stroke="#000" stroke-width="3.4"/>
<line x1="772" y1="735.8" x2="772" y2="812.5" stroke="#000" stroke-width="3.4"/>
<line x1="935.6" y1="735.8" x2="935.6" y2="812.5" stroke="#000" stroke-width="3.4"/>
<line x1="1133" y1="735.8" x2="1133" y2="812.5" stroke="#000" stroke-width="3.4"/>
<line x1="117.8" y1="812.5" x2="1258.3" y2="812.5" stroke="#000" stroke-width="3.2"/>
<rect x="117.8" y="735.8" width="1140.5" height="274.7" fill="none" stroke="#000" stroke-width="3.2"/>
<text x="123.4" y="770.2" font-size="20.9" font-weight="bold" fill="#000">Roc curves HCs  vs,</text>
<text x="123.4" y="797.9" font-size="20.9" font-weight="bold" fill="#000">Gliomas</text>
<text x="387" y="770.2" font-size="20.9" font-weight="bold" text-anchor="middle" fill="#000">Cut-off</text>
<text x="387" y="797.9" font-size="20.9" font-weight="bold" text-anchor="middle" fill="#000">[Rq]</text>
<text x="522" y="770.2" font-size="20.9" font-weight="bold" text-anchor="middle" fill="#000">Sensitivity</text>
<text x="519.5" y="795" font-size="20.9" font-weight="bold" text-anchor="middle" fill="#000">%</text>
<text x="607.5" y="784.3" font-size="20.9" font-weight="bold" fill="#000">95% CI</text>
<text x="790.6" y="784.3" font-size="20.9" font-weight="bold" fill="#000">Specificity %</text>
<text x="956.7" y="784.3" font-size="20.9" font-weight="bold" fill="#000">95% CI</text>
<text x="1200.5" y="769.4" font-size="20.9" font-weight="bold" text-anchor="middle" fill="#000">Likelihood</text>
<text x="1200.5" y="795" font-size="20.9" font-weight="bold" text-anchor="middle" fill="#000">ratio</text>
<text x="123.4" y="841.2" font-size="20.9" fill="#000">mir-182-5p</text>
<text x="352.3" y="841.2" font-size="20.9" fill="#000">&gt;0.5975</text>
<text x="470.4" y="841.2" font-size="20.9" fill="#000">98.5</text>
<text x="607.5" y="841.2" font-size="20.9" fill="#000">92.1% to 99.9%</text>
<text x="790.6" y="841.2" font-size="20.9" fill="#000">83.3</text>
<text x="956.7" y="841.2" font-size="20.9" fill="#000">55.2% to 97.04%</text>
<text x="1149.3" y="841.2" font-size="20.9" fill="#000">5.91</text>
<text x="123.4" y="881.2" font-size="20.9" fill="#000">mir-25-3p</text>
<text x="352.3" y="881.2" font-size="20.9" fill="#000">&gt;1.515</text>
<text x="470.4" y="881.2" font-size="20.9" fill="#000">95.3</text>
<text x="607.5" y="881.2" font-size="20.9" fill="#000">87.1% to 98.7%</text>
<text x="790.6" y="881.2" font-size="20.9" fill="#000">90</text>
<text x="956.7" y="881.2" font-size="20.9" fill="#000">59.6% to 99.5%</text>
<text x="1149.3" y="881.2" font-size="20.9" fill="#000">9.531</text>
<text x="123.4" y="921.2" font-size="20.9" fill="#000">mir-10b-5p</text>
<text x="352.3" y="921.2" font-size="20.9" fill="#000">&gt;0.71185</text>
<text x="470.4" y="921.2" font-size="20.9" fill="#000">89.23</text>
<text x="607.5" y="921.2" font-size="20.9" fill="#000">79.4% to 94.7%</text>
<text x="790.6" y="921.2" font-size="20.9" fill="#000">80</text>
<text x="956.7" y="921.2" font-size="20.9" fill="#000">49.02% to 96.5%</text>
<text x="1149.3" y="921.2" font-size="20.9" fill="#000">4.5</text>
<text x="123.4" y="961.2" font-size="20.9" fill="#000">mir-106b-3p</text>
<text x="352.3" y="961.2" font-size="20.9" fill="#000">&gt;0.2051</text>
<text x="470.4" y="961.2" font-size="20.9" fill="#000">98.5</text>
<text x="607.5" y="961.2" font-size="20.9" fill="#000">92.% to 99.9%</text>
<text x="790.6" y="961.2" font-size="20.9" fill="#000">75</text>
<text x="956.7" y="961.2" font-size="20.9" fill="#000">46.8% to 91.1%</text>
<text x="1149.3" y="961.2" font-size="20.9" fill="#000">3.944</text>
<text x="123.4" y="1001.2" font-size="20.9" fill="#000">mir-21-5p</text>
<text x="352.3" y="1001.2" font-size="20.9" fill="#000">&gt;1.011</text>
<text x="470.4" y="1001.2" font-size="20.9" fill="#000">80</text>
<text x="607.5" y="1001.2" font-size="20.9" fill="#000">68.7% to 87.9%</text>
<text x="790.6" y="1001.2" font-size="20.9" fill="#000">54.6</text>
<text x="956.7" y="1001.2" font-size="20.9" fill="#000">28.01% to 78.7%</text>
<text x="1149.3" y="1001.2" font-size="20.9" fill="#000">1.76</text>
<text x="-0.8" y="1083.6" font-size="42" font-weight="bold" fill="#000">b</text>
<text x="49" y="1089" font-size="25" font-weight="bold" fill="#000">mir-182-5p</text>
<text x="231.6" y="1127.5" font-size="25" font-weight="bold" text-anchor="middle" fill="#000">HC vs, LGGs</text>
<line x1="102.7" y1="1411.1" x2="359" y2="1155.3" stroke="#ff0000" stroke-width="1.6" stroke-dasharray="3.9,2.6"/>
<line x1="102.7" y1="1153.8" x2="102.7" y2="1418.6" stroke="#000" stroke-width="3" stroke-linecap="butt"/>
<line x1="95.2" y1="1411.1" x2="360.5" y2="1411.1" stroke="#000" stroke-width="3"/>
<line x1="95.2" y1="1411.1" x2="102.7" y2="1411.1" stroke="#000" stroke-width="3"/>
<line x1="102.7" y1="1411.1" x2="102.7" y2="1418.6" stroke="#000" stroke-width="3"/>
<line x1="95.2" y1="1359.94" x2="102.7" y2="1359.94" stroke="#000" stroke-width="3"/>
<line x1="153.96" y1="1411.1" x2="153.96" y2="1418.6" stroke="#000" stroke-width="3"/>
<line x1="95.2" y1="1308.78" x2="102.7" y2="1308.78" stroke="#000" stroke-width="3"/>
<line x1="205.22" y1="1411.1" x2="205.22" y2="1418.6" stroke="#000" stroke-width="3"/>
<line x1="95.2" y1="1257.62" x2="102.7" y2="1257.62" stroke="#000" stroke-width="3"/>
<line x1="256.48" y1="1411.1" x2="256.48" y2="1418.6" stroke="#000" stroke-width="3"/>
<line x1="95.2" y1="1206.46" x2="102.7" y2="1206.46" stroke="#000" stroke-width="3"/>
<line x1="307.74" y1="1411.1" x2="307.74" y2="1418.6" stroke="#000" stroke-width="3"/>
<line x1="95.2" y1="1155.3" x2="102.7" y2="1155.3" stroke="#000" stroke-width="3"/>
<line x1="359" y1="1411.1" x2="359" y2="1418.6" stroke="#000" stroke-width="3"/>
<text x="81.2" y="1420.95" font-size="25" font-weight="bold" text-anchor="end" fill="#000">0</text>
<text x="81.2" y="1369.79" font-size="25" font-weight="bold" text-anchor="end" fill="#000">20</text>
<text x="81.2" y="1318.63" font-size="25" font-weight="bold" text-anchor="end" fill="#000">40</text>
<text x="81.2" y="1267.47" font-size="25" font-weight="bold" text-anchor="end" fill="#000">60</text>
<text x="81.2" y="1216.31" font-size="25" font-weight="bold" text-anchor="end" fill="#000">80</text>
<text x="81.2" y="1165.15" font-size="25" font-weight="bold" text-anchor="end" fill="#000">100</text>
<text x="102.7" y="1450" font-size="25" font-weight="bold" text-anchor="middle" fill="#000">0</text>
<text x="153.96" y="1450" font-size="25" font-weight="bold" text-anchor="middle" fill="#000">20</text>
<text x="205.22" y="1450" font-size="25" font-weight="bold" text-anchor="middle" fill="#000">40</text>
<text x="256.48" y="1450" font-size="25" font-weight="bold" text-anchor="middle" fill="#000">60</text>
<text x="307.74" y="1450" font-size="25" font-weight="bold" text-anchor="middle" fill="#000">80</text>
<text x="359" y="1450" font-size="25" font-weight="bold" text-anchor="middle" fill="#000">100</text>
<text x="112.8" y="1490.5" font-size="25" font-weight="bold" fill="#000">100%</text>
<rect x="180" y="1482.2" width="19" height="2.7" fill="#000"/>
<text x="202.3" y="1490.5" font-size="25" font-weight="bold" fill="#000">Specificity%</text>
<text transform="translate(20.3,1282.3) rotate(-90)" x="0" y="0" font-size="25" font-weight="bold" text-anchor="middle">Sensitivity%</text>
<polyline points="102.7,1411.1 124.06,1411.1 124.06,1395.11 124.06,1379.12 124.06,1363.14 124.06,1347.15 124.06,1331.16 124.06,1315.17 124.06,1299.19 124.06,1283.2 124.06,1267.21 124.06,1251.22 124.06,1235.24 145.42,1235.24 145.42,1219.25 145.42,1203.26 145.42,1187.27 145.42,1171.29 166.78,1171.29 166.78,1155.3 188.13,1155.3 209.49,1155.3 230.85,1155.3 252.21,1155.3 294.93,1155.3 316.28,1155.3 337.64,1155.3 359,1155.3" fill="none" stroke="#000" stroke-width="1.8"/>
<g fill="#000"><circle cx="102.7" cy="1411.1" r="5.3"/><circle cx="124.06" cy="1411.1" r="5.3"/><circle cx="124.06" cy="1395.11" r="5.3"/><circle cx="124.06" cy="1379.12" r="5.3"/><circle cx="124.06" cy="1363.14" r="5.3"/><circle cx="124.06" cy="1347.15" r="5.3"/><circle cx="124.06" cy="1331.16" r="5.3"/><circle cx="124.06" cy="1315.17" r="5.3"/><circle cx="124.06" cy="1299.19" r="5.3"/><circle cx="124.06" cy="1283.2" r="5.3"/><circle cx="124.06" cy="1267.21" r="5.3"/><circle cx="124.06" cy="1251.22" r="5.3"/><circle cx="124.06" cy="1235.24" r="5.3"/><circle cx="145.42" cy="1235.24" r="5.3"/><circle cx="145.42" cy="1219.25" r="5.3"/><circle cx="145.42" cy="1203.26" r="5.3"/><circle cx="145.42" cy="1187.27" r="5.3"/><circle cx="145.42" cy="1171.29" r="5.3"/><circle cx="166.78" cy="1171.29" r="5.3"/><circle cx="166.78" cy="1155.3" r="5.3"/><circle cx="188.13" cy="1155.3" r="5.3"/><circle cx="209.49" cy="1155.3" r="5.3"/><circle cx="230.85" cy="1155.3" r="5.3"/><circle cx="252.21" cy="1155.3" r="5.3"/><circle cx="294.93" cy="1155.3" r="5.3"/><circle cx="316.28" cy="1155.3" r="5.3"/><circle cx="337.64" cy="1155.3" r="5.3"/><circle cx="359" cy="1155.3" r="5.3"/></g>
<text x="696.2" y="1113" font-size="25" font-weight="bold" text-anchor="middle" fill="#000">LGG vs, Other</text>
<text x="696.2" y="1143.7" font-size="25" font-weight="bold" text-anchor="middle" fill="#000">glioma subtypes</text>
<line x1="571.6" y1="1409.4" x2="821.6" y2="1159.4" stroke="#ff0000" stroke-width="1.6" stroke-dasharray="3.9,2.6"/>
<line x1="571.6" y1="1158" x2="571.6" y2="1416.9" stroke="#000" stroke-width="2.8" stroke-linecap="butt"/>
<line x1="564.1" y1="1409.4" x2="823" y2="1409.4" stroke="#000" stroke-width="2.8"/>
<line x1="564.1" y1="1409.4" x2="571.6" y2="1409.4" stroke="#000" stroke-width="2.8"/>
<line x1="571.6" y1="1409.4" x2="571.6" y2="1416.9" stroke="#000" stroke-width="2.8"/>
<line x1="564.1" y1="1359.4" x2="571.6" y2="1359.4" stroke="#000" stroke-width="2.8"/>
<line x1="621.6" y1="1409.4" x2="621.6" y2="1416.9" stroke="#000" stroke-width="2.8"/>
<line x1="564.1" y1="1309.4" x2="571.6" y2="1309.4" stroke="#000" stroke-width="2.8"/>
<line x1="671.6" y1="1409.4" x2="671.6" y2="1416.9" stroke="#000" stroke-width="2.8"/>
<line x1="564.1" y1="1259.4" x2="571.6" y2="1259.4" stroke="#000" stroke-width="2.8"/>
<line x1="721.6" y1="1409.4" x2="721.6" y2="1416.9" stroke="#000" stroke-width="2.8"/>
<line x1="564.1" y1="1209.4" x2="571.6" y2="1209.4" stroke="#000" stroke-width="2.8"/>
<line x1="771.6" y1="1409.4" x2="771.6" y2="1416.9" stroke="#000" stroke-width="2.8"/>
<line x1="564.1" y1="1159.4" x2="571.6" y2="1159.4" stroke="#000" stroke-width="2.8"/>
<line x1="821.6" y1="1409.4" x2="821.6" y2="1416.9" stroke="#000" stroke-width="2.8"/>
<text x="551.2" y="1419.25" font-size="25" font-weight="bold" text-anchor="end" fill="#000">0</text>
<text x="551.2" y="1369.25" font-size="25" font-weight="bold" text-anchor="end" fill="#000">20</text>
<text x="551.2" y="1319.25" font-size="25" font-weight="bold" text-anchor="end" fill="#000">40</text>
<text x="551.2" y="1269.25" font-size="25" font-weight="bold" text-anchor="end" fill="#000">60</text>
<text x="551.2" y="1219.25" font-size="25" font-weight="bold" text-anchor="end" fill="#000">80</text>
<text x="551.2" y="1169.25" font-size="25" font-weight="bold" text-anchor="end" fill="#000">100</text>
<text x="564" y="1449.6" font-size="25" font-weight="bold" text-anchor="middle" fill="#000">0</text>
<text x="615.1" y="1449.6" font-size="25" font-weight="bold" text-anchor="middle" fill="#000">20</text>
<text x="666.2" y="1449.6" font-size="25" font-weight="bold" text-anchor="middle" fill="#000">40</text>
<text x="717.3" y="1449.6" font-size="25" font-weight="bold" text-anchor="middle" fill="#000">60</text>
<text x="768.4" y="1449.6" font-size="25" font-weight="bold" text-anchor="middle" fill="#000">80</text>
<text x="819.5" y="1449.6" font-size="25" font-weight="bold" text-anchor="middle" fill="#000">100</text>
<text x="586.8" y="1490.4" font-size="25" font-weight="bold" fill="#000">100%</text>
<rect x="654" y="1482.1" width="19" height="2.7" fill="#000"/>
<text x="676.3" y="1490.4" font-size="25" font-weight="bold" fill="#000">Specificity%</text>
<text transform="translate(489.1,1284) rotate(-90)" x="0" y="0" font-size="25" font-weight="bold" text-anchor="middle">Sensitivity%</text>
<polyline points="571.6,1409.4 571.6,1404.68 571.6,1399.97 571.6,1395.25 571.6,1390.53 571.6,1385.82 571.6,1381.1 571.6,1376.38 571.6,1371.66 571.6,1366.95 571.6,1362.23 571.6,1357.51 571.6,1352.8 571.6,1348.08 571.6,1343.36 571.6,1338.65 571.6,1333.93 571.6,1329.21 571.6,1324.49 571.6,1319.78 571.6,1315.06 571.6,1310.34 571.6,1305.63 571.6,1300.91 571.6,1296.19 571.6,1291.48 571.6,1286.76 571.6,1282.04 571.6,1277.32 571.6,1272.61 571.6,1267.89 571.6,1263.17 571.6,1258.46 571.6,1253.74 571.6,1249.02 571.6,1244.31 571.6,1239.59 571.6,1234.87 571.6,1230.15 571.6,1225.44 571.6,1220.72 571.6,1216 571.6,1211.29 587.23,1211.29 587.23,1206.57 587.23,1201.85 602.85,1201.85 602.85,1197.14 602.85,1192.42 602.85,1187.7 602.85,1182.98 618.48,1182.98 634.1,1182.98 634.1,1178.27 649.73,1178.27 649.73,1173.55 665.35,1173.55 680.98,1173.55 696.6,1173.55 696.6,1168.83 712.23,1168.83 712.23,1164.12 712.23,1159.4 727.85,1159.4 743.48,1159.4 759.1,1159.4 774.73,1159.4 790.35,1159.4 805.98,1159.4 821.6,1159.4" fill="none" stroke="#000" stroke-width="1.6"/>
<g fill="#000"><circle cx="571.6" cy="1409.4" r="3.95"/><circle cx="571.6" cy="1404.68" r="3.95"/><circle cx="571.6" cy="1399.97" r="3.95"/><circle cx="571.6" cy="1395.25" r="3.95"/><circle cx="571.6" cy="1390.53" r="3.95"/><circle cx="571.6" cy="1385.82" r="3.95"/><circle cx="571.6" cy="1381.1" r="3.95"/><circle cx="571.6" cy="1376.38" r="3.95"/><circle cx="571.6" cy="1371.66" r="3.95"/><circle cx="571.6" cy="1366.95" r="3.95"/><circle cx="571.6" cy="1362.23" r="3.95"/><circle cx="571.6" cy="1357.51" r="3.95"/><circle cx="571.6" cy="1352.8" r="3.95"/><circle cx="571.6" cy="1348.08" r="3.95"/><circle cx="571.6" cy="1343.36" r="3.95"/><circle cx="571.6" cy="1338.65" r="3.95"/><circle cx="571.6" cy="1333.93" r="3.95"/><circle cx="571.6" cy="1329.21" r="3.95"/><circle cx="571.6" cy="1324.49" r="3.95"/><circle cx="571.6" cy="1319.78" r="3.95"/><circle cx="571.6" cy="1315.06" r="3.95"/><circle cx="571.6" cy="1310.34" r="3.95"/><circle cx="571.6" cy="1305.63" r="3.95"/><circle cx="571.6" cy="1300.91" r="3.95"/><circle cx="571.6" cy="1296.19" r="3.95"/><circle cx="571.6" cy="1291.48" r="3.95"/><circle cx="571.6" cy="1286.76" r="3.95"/><circle cx="571.6" cy="1282.04" r="3.95"/><circle cx="571.6" cy="1277.32" r="3.95"/><circle cx="571.6" cy="1272.61" r="3.95"/><circle cx="571.6" cy="1267.89" r="3.95"/><circle cx="571.6" cy="1263.17" r="3.95"/><circle cx="571.6" cy="1258.46" r="3.95"/><circle cx="571.6" cy="1253.74" r="3.95"/><circle cx="571.6" cy="1249.02" r="3.95"/><circle cx="571.6" cy="1244.31" r="3.95"/><circle cx="571.6" cy="1239.59" r="3.95"/><circle cx="571.6" cy="1234.87" r="3.95"/><circle cx="571.6" cy="1230.15" r="3.95"/><circle cx="571.6" cy="1225.44" r="3.95"/><circle cx="571.6" cy="1220.72" r="3.95"/><circle cx="571.6" cy="1216" r="3.95"/><circle cx="571.6" cy="1211.29" r="3.95"/><circle cx="587.23" cy="1211.29" r="3.95"/><circle cx="587.23" cy="1206.57" r="3.95"/><circle cx="587.23" cy="1201.85" r="3.95"/><circle cx="602.85" cy="1201.85" r="3.95"/><circle cx="602.85" cy="1197.14" r="3.95"/><circle cx="602.85" cy="1192.42" r="3.95"/><circle cx="602.85" cy="1187.7" r="3.95"/><circle cx="602.85" cy="1182.98" r="3.95"/><circle cx="618.48" cy="1182.98" r="3.95"/><circle cx="634.1" cy="1182.98" r="3.95"/><circle cx="634.1" cy="1178.27" r="3.95"/><circle cx="649.73" cy="1178.27" r="3.95"/><circle cx="649.73" cy="1173.55" r="3.95"/><circle cx="665.35" cy="1173.55" r="3.95"/><circle cx="680.98" cy="1173.55" r="3.95"/><circle cx="696.6" cy="1173.55" r="3.95"/><circle cx="696.6" cy="1168.83" r="3.95"/><circle cx="712.23" cy="1168.83" r="3.95"/><circle cx="712.23" cy="1164.12" r="3.95"/><circle cx="712.23" cy="1159.4" r="3.95"/><circle cx="727.85" cy="1159.4" r="3.95"/><circle cx="743.48" cy="1159.4" r="3.95"/><circle cx="759.1" cy="1159.4" r="3.95"/><circle cx="774.73" cy="1159.4" r="3.95"/><circle cx="790.35" cy="1159.4" r="3.95"/><circle cx="805.98" cy="1159.4" r="3.95"/><circle cx="821.6" cy="1159.4" r="3.95"/></g>
<text x="1155.6" y="1113.2" font-size="25" font-weight="bold" text-anchor="middle" fill="#000">HC vs, Glioma subtypes</text>
<text x="1155.6" y="1143.2" font-size="25" font-weight="bold" text-anchor="middle" fill="#000">without LGGs</text>
<line x1="1035.9" y1="1410.8" x2="1276.2" y2="1170.1" stroke="#ff0000" stroke-width="1.6" stroke-dasharray="3.9,2.6"/>
<line x1="1035.9" y1="1168.8" x2="1035.9" y2="1417.8" stroke="#000" stroke-width="2.6" stroke-linecap="butt"/>
<line x1="1028.9" y1="1410.8" x2="1277.5" y2="1410.8" stroke="#000" stroke-width="2.6"/>
<line x1="1028.9" y1="1410.8" x2="1035.9" y2="1410.8" stroke="#000" stroke-width="2.6"/>
<line x1="1035.9" y1="1410.8" x2="1035.9" y2="1417.8" stroke="#000" stroke-width="2.6"/>
<line x1="1028.9" y1="1362.66" x2="1035.9" y2="1362.66" stroke="#000" stroke-width="2.6"/>
<line x1="1083.96" y1="1410.8" x2="1083.96" y2="1417.8" stroke="#000" stroke-width="2.6"/>
<line x1="1028.9" y1="1314.52" x2="1035.9" y2="1314.52" stroke="#000" stroke-width="2.6"/>
<line x1="1132.02" y1="1410.8" x2="1132.02" y2="1417.8" stroke="#000" stroke-width="2.6"/>
<line x1="1028.9" y1="1266.38" x2="1035.9" y2="1266.38" stroke="#000" stroke-width="2.6"/>
<line x1="1180.08" y1="1410.8" x2="1180.08" y2="1417.8" stroke="#000" stroke-width="2.6"/>
<line x1="1028.9" y1="1218.24" x2="1035.9" y2="1218.24" stroke="#000" stroke-width="2.6"/>
<line x1="1228.14" y1="1410.8" x2="1228.14" y2="1417.8" stroke="#000" stroke-width="2.6"/>
<line x1="1028.9" y1="1170.1" x2="1035.9" y2="1170.1" stroke="#000" stroke-width="2.6"/>
<line x1="1276.2" y1="1410.8" x2="1276.2" y2="1417.8" stroke="#000" stroke-width="2.6"/>
<text x="1015.8" y="1420.65" font-size="25" font-weight="bold" text-anchor="end" fill="#000">0</text>
<text x="1015.8" y="1372.51" font-size="25" font-weight="bold" text-anchor="end" fill="#000">20</text>
<text x="1015.8" y="1324.37" font-size="25" font-weight="bold" text-anchor="end" fill="#000">40</text>
<text x="1015.8" y="1276.23" font-size="25" font-weight="bold" text-anchor="end" fill="#000">60</text>
<text x="1015.8" y="1228.09" font-size="25" font-weight="bold" text-anchor="end" fill="#000">80</text>
<text x="1015.8" y="1179.95" font-size="25" font-weight="bold" text-anchor="end" fill="#000">100</text>
<text x="1035.9" y="1449.9" font-size="25" font-weight="bold" text-anchor="middle" fill="#000">0</text>
<text x="1083.96" y="1449.9" font-size="25" font-weight="bold" text-anchor="middle" fill="#000">20</text>
<text x="1132.02" y="1449.9" font-size="25" font-weight="bold" text-anchor="middle" fill="#000">40</text>
<text x="1180.08" y="1449.9" font-size="25" font-weight="bold" text-anchor="middle" fill="#000">60</text>
<text x="1228.14" y="1449.9" font-size="25" font-weight="bold" text-anchor="middle" fill="#000">80</text>
<text x="1276.2" y="1449.9" font-size="25" font-weight="bold" text-anchor="middle" fill="#000">100</text>
<text x="1045.4" y="1489.9" font-size="25" font-weight="bold" fill="#000">100%</text>
<rect x="1112.6" y="1481.6" width="19" height="2.7" fill="#000"/>
<text x="1134.9" y="1489.9" font-size="25" font-weight="bold" fill="#000">Specificity%</text>
<text transform="translate(949.4,1290.5) rotate(-90)" x="0" y="0" font-size="25" font-weight="bold" text-anchor="middle">Sensitivity%</text>
<polyline points="1035.9,1410.8 1035.9,1406.79 1035.9,1402.78 1035.9,1398.76 1035.9,1394.75 1035.9,1390.74 1035.9,1386.73 1035.9,1382.72 1035.9,1378.71 1035.9,1374.69 1035.9,1370.68 1035.9,1366.67 1035.9,1362.66 1035.9,1358.65 1035.9,1354.64 1035.9,1350.62 1035.9,1346.61 1035.9,1342.6 1035.9,1338.59 1035.9,1334.58 1035.9,1330.57 1035.9,1326.55 1035.9,1322.54 1035.9,1318.53 1035.9,1314.52 1035.9,1310.51 1035.9,1306.5 1035.9,1302.48 1035.9,1298.47 1035.9,1294.46 1035.9,1290.45 1035.9,1286.44 1035.9,1282.43 1035.9,1278.41 1035.9,1274.4 1035.9,1270.39 1035.9,1266.38 1035.9,1262.37 1035.9,1258.36 1035.9,1254.35 1035.9,1250.33 1035.9,1246.32 1035.9,1242.31 1035.9,1238.3 1035.9,1234.29 1035.9,1230.27 1055.93,1230.27 1055.93,1226.26 1055.93,1222.25 1055.93,1218.24 1055.93,1214.23 1055.93,1210.22 1055.93,1206.2 1055.93,1202.19 1055.93,1198.18 1055.93,1194.17 1055.93,1190.16 1055.93,1186.15 1055.93,1182.13 1055.93,1178.12 1055.93,1174.11 1055.93,1170.1 1075.95,1170.1 1095.98,1170.1 1116,1170.1 1136.03,1170.1 1156.05,1170.1 1176.08,1170.1 1216.12,1170.1 1236.15,1170.1 1256.18,1170.1 1276.2,1170.1" fill="none" stroke="#000" stroke-width="1.2"/>
<g fill="#000"><circle cx="1035.9" cy="1410.8" r="4.1"/><circle cx="1035.9" cy="1406.79" r="4.1"/><circle cx="1035.9" cy="1402.78" r="4.1"/><circle cx="1035.9" cy="1398.76" r="4.1"/><circle cx="1035.9" cy="1394.75" r="4.1"/><circle cx="1035.9" cy="1390.74" r="4.1"/><circle cx="1035.9" cy="1386.73" r="4.1"/><circle cx="1035.9" cy="1382.72" r="4.1"/><circle cx="1035.9" cy="1378.71" r="4.1"/><circle cx="1035.9" cy="1374.69" r="4.1"/><circle cx="1035.9" cy="1370.68" r="4.1"/><circle cx="1035.9" cy="1366.67" r="4.1"/><circle cx="1035.9" cy="1362.66" r="4.1"/><circle cx="1035.9" cy="1358.65" r="4.1"/><circle cx="1035.9" cy="1354.64" r="4.1"/><circle cx="1035.9" cy="1350.62" r="4.1"/><circle cx="1035.9" cy="1346.61" r="4.1"/><circle cx="1035.9" cy="1342.6" r="4.1"/><circle cx="1035.9" cy="1338.59" r="4.1"/><circle cx="1035.9" cy="1334.58" r="4.1"/><circle cx="1035.9" cy="1330.57" r="4.1"/><circle cx="1035.9" cy="1326.55" r="4.1"/><circle cx="1035.9" cy="1322.54" r="4.1"/><circle cx="1035.9" cy="1318.53" r="4.1"/><circle cx="1035.9" cy="1314.52" r="4.1"/><circle cx="1035.9" cy="1310.51" r="4.1"/><circle cx="1035.9" cy="1306.5" r="4.1"/><circle cx="1035.9" cy="1302.48" r="4.1"/><circle cx="1035.9" cy="1298.47" r="4.1"/><circle cx="1035.9" cy="1294.46" r="4.1"/><circle cx="1035.9" cy="1290.45" r="4.1"/><circle cx="1035.9" cy="1286.44" r="4.1"/><circle cx="1035.9" cy="1282.43" r="4.1"/><circle cx="1035.9" cy="1278.41" r="4.1"/><circle cx="1035.9" cy="1274.4" r="4.1"/><circle cx="1035.9" cy="1270.39" r="4.1"/><circle cx="1035.9" cy="1266.38" r="4.1"/><circle cx="1035.9" cy="1262.37" r="4.1"/><circle cx="1035.9" cy="1258.36" r="4.1"/><circle cx="1035.9" cy="1254.35" r="4.1"/><circle cx="1035.9" cy="1250.33" r="4.1"/><circle cx="1035.9" cy="1246.32" r="4.1"/><circle cx="1035.9" cy="1242.31" r="4.1"/><circle cx="1035.9" cy="1238.3" r="4.1"/><circle cx="1035.9" cy="1234.29" r="4.1"/><circle cx="1035.9" cy="1230.27" r="4.1"/><circle cx="1055.93" cy="1230.27" r="4.1"/><circle cx="1055.93" cy="1226.26" r="4.1"/><circle cx="1055.93" cy="1222.25" r="4.1"/><circle cx="1055.93" cy="1218.24" r="4.1"/><circle cx="1055.93" cy="1214.23" r="4.1"/><circle cx="1055.93" cy="1210.22" r="4.1"/><circle cx="1055.93" cy="1206.2" r="4.1"/><circle cx="1055.93" cy="1202.19" r="4.1"/><circle cx="1055.93" cy="1198.18" r="4.1"/><circle cx="1055.93" cy="1194.17" r="4.1"/><circle cx="1055.93" cy="1190.16" r="4.1"/><circle cx="1055.93" cy="1186.15" r="4.1"/><circle cx="1055.93" cy="1182.13" r="4.1"/><circle cx="1055.93" cy="1178.12" r="4.1"/><circle cx="1055.93" cy="1174.11" r="4.1"/><circle cx="1055.93" cy="1170.1" r="4.1"/><circle cx="1075.95" cy="1170.1" r="4.1"/><circle cx="1095.98" cy="1170.1" r="4.1"/><circle cx="1116" cy="1170.1" r="4.1"/><circle cx="1136.03" cy="1170.1" r="4.1"/><circle cx="1156.05" cy="1170.1" r="4.1"/><circle cx="1176.08" cy="1170.1" r="4.1"/><circle cx="1216.12" cy="1170.1" r="4.1"/><circle cx="1236.15" cy="1170.1" r="4.1"/><circle cx="1256.18" cy="1170.1" r="4.1"/><circle cx="1276.2" cy="1170.1" r="4.1"/></g>
<text x="-1.6" y="1560.2" font-size="41" font-weight="bold" fill="#000">c</text>
<text x="49.6" y="1561.6" font-size="25" font-weight="bold" fill="#000">mir-25-3p</text>
<text x="227" y="1597.5" font-size="25" font-weight="bold" text-anchor="middle" fill="#000">HC vs, LGGs</text>
<line x1="101.85" y1="1886.1" x2="352.05" y2="1636.15" stroke="#ff0000" stroke-width="1.6" stroke-dasharray="3.9,2.6"/>
<line x1="101.85" y1="1634.8" x2="101.85" y2="1893.6" stroke="#000" stroke-width="2.7" stroke-linecap="butt"/>
<line x1="94.35" y1="1886.1" x2="353.4" y2="1886.1" stroke="#000" stroke-width="2.7"/>
<line x1="94.35" y1="1886.1" x2="101.85" y2="1886.1" stroke="#000" stroke-width="2.7"/>
<line x1="101.85" y1="1886.1" x2="101.85" y2="1893.6" stroke="#000" stroke-width="2.7"/>
<line x1="94.35" y1="1836.11" x2="101.85" y2="1836.11" stroke="#000" stroke-width="2.7"/>
<line x1="151.89" y1="1886.1" x2="151.89" y2="1893.6" stroke="#000" stroke-width="2.7"/>
<line x1="94.35" y1="1786.12" x2="101.85" y2="1786.12" stroke="#000" stroke-width="2.7"/>
<line x1="201.93" y1="1886.1" x2="201.93" y2="1893.6" stroke="#000" stroke-width="2.7"/>
<line x1="94.35" y1="1736.13" x2="101.85" y2="1736.13" stroke="#000" stroke-width="2.7"/>
<line x1="251.97" y1="1886.1" x2="251.97" y2="1893.6" stroke="#000" stroke-width="2.7"/>
<line x1="94.35" y1="1686.14" x2="101.85" y2="1686.14" stroke="#000" stroke-width="2.7"/>
<line x1="302.01" y1="1886.1" x2="302.01" y2="1893.6" stroke="#000" stroke-width="2.7"/>
<line x1="94.35" y1="1636.15" x2="101.85" y2="1636.15" stroke="#000" stroke-width="2.7"/>
<line x1="352.05" y1="1886.1" x2="352.05" y2="1893.6" stroke="#000" stroke-width="2.7"/>
<text x="81" y="1895.95" font-size="25" font-weight="bold" text-anchor="end" fill="#000">0</text>
<text x="81" y="1845.96" font-size="25" font-weight="bold" text-anchor="end" fill="#000">20</text>
<text x="81" y="1795.97" font-size="25" font-weight="bold" text-anchor="end" fill="#000">40</text>
<text x="81" y="1745.98" font-size="25" font-weight="bold" text-anchor="end" fill="#000">60</text>
<text x="81" y="1695.99" font-size="25" font-weight="bold" text-anchor="end" fill="#000">80</text>
<text x="81" y="1646" font-size="25" font-weight="bold" text-anchor="end" fill="#000">100</text>
<text x="98.1" y="1924.6" font-size="25" font-weight="bold" text-anchor="middle" fill="#000">0</text>
<text x="149.24" y="1924.6" font-size="25" font-weight="bold" text-anchor="middle" fill="#000">20</text>
<text x="200.38" y="1924.6" font-size="25" font-weight="bold" text-anchor="middle" fill="#000">40</text>
<text x="251.52" y="1924.6" font-size="25" font-weight="bold" text-anchor="middle" fill="#000">60</text>
<text x="302.66" y="1924.6" font-size="25" font-weight="bold" text-anchor="middle" fill="#000">80</text>
<text x="353.8" y="1924.6" font-size="25" font-weight="bold" text-anchor="middle" fill="#000">100</text>
<text x="116.1" y="1959.3" font-size="25" font-weight="bold" fill="#000">100%</text>
<rect x="183.3" y="1951" width="19" height="2.7" fill="#000"/>
<text x="205.6" y="1959.3" font-size="25" font-weight="bold" fill="#000">Specificity%</text>
<text transform="translate(20.3,1760.8) rotate(-90)" x="0" y="0" font-size="25" font-weight="bold" text-anchor="middle">Sensitivity%</text>
<polyline points="101.85,1886.1 126.87,1886.1 126.87,1869.44 126.87,1852.77 126.87,1836.11 126.87,1819.45 126.87,1802.78 126.87,1786.12 126.87,1769.46 126.87,1752.79 126.87,1736.13 126.87,1719.47 126.87,1702.8 126.87,1686.14 151.89,1686.14 151.89,1669.48 151.89,1652.81 176.91,1652.81 176.91,1636.15 201.93,1636.15 226.95,1636.15 251.97,1636.15 276.99,1636.15 302.01,1636.15 327.03,1636.15 352.05,1636.15" fill="none" stroke="#000" stroke-width="1.8"/>
<g fill="#000"><circle cx="101.85" cy="1886.1" r="4"/><circle cx="126.87" cy="1886.1" r="4"/><circle cx="126.87" cy="1869.44" r="4"/><circle cx="126.87" cy="1852.77" r="4"/><circle cx="126.87" cy="1836.11" r="4"/><circle cx="126.87" cy="1819.45" r="4"/><circle cx="126.87" cy="1802.78" r="4"/><circle cx="126.87" cy="1786.12" r="4"/><circle cx="126.87" cy="1769.46" r="4"/><circle cx="126.87" cy="1752.79" r="4"/><circle cx="126.87" cy="1736.13" r="4"/><circle cx="126.87" cy="1719.47" r="4"/><circle cx="126.87" cy="1702.8" r="4"/><circle cx="126.87" cy="1686.14" r="4"/><circle cx="151.89" cy="1686.14" r="4"/><circle cx="151.89" cy="1669.48" r="4"/><circle cx="151.89" cy="1652.81" r="4"/><circle cx="176.91" cy="1652.81" r="4"/><circle cx="176.91" cy="1636.15" r="4"/><circle cx="201.93" cy="1636.15" r="4"/><circle cx="226.95" cy="1636.15" r="4"/><circle cx="251.97" cy="1636.15" r="4"/><circle cx="276.99" cy="1636.15" r="4"/><circle cx="302.01" cy="1636.15" r="4"/><circle cx="327.03" cy="1636.15" r="4"/><circle cx="352.05" cy="1636.15" r="4"/></g>
<text x="690" y="1583" font-size="25" font-weight="bold" text-anchor="middle" fill="#000">HCs vs, Glioma</text>
<text x="690" y="1613.7" font-size="25" font-weight="bold" text-anchor="middle" fill="#000">subtypes without LGGs</text>
<line x1="572.25" y1="1884" x2="808.05" y2="1647.3" stroke="#ff0000" stroke-width="1.6" stroke-dasharray="3.9,2.6"/>
<line x1="572.25" y1="1646" x2="572.25" y2="1891" stroke="#000" stroke-width="2.6" stroke-linecap="butt"/>
<line x1="565.25" y1="1884" x2="809.35" y2="1884" stroke="#000" stroke-width="2.6"/>
<line x1="565.25" y1="1884" x2="572.25" y2="1884" stroke="#000" stroke-width="2.6"/>
<line x1="572.25" y1="1884" x2="572.25" y2="1891" stroke="#000" stroke-width="2.6"/>
<line x1="565.25" y1="1836.66" x2="572.25" y2="1836.66" stroke="#000" stroke-width="2.6"/>
<line x1="619.41" y1="1884" x2="619.41" y2="1891" stroke="#000" stroke-width="2.6"/>
<line x1="565.25" y1="1789.32" x2="572.25" y2="1789.32" stroke="#000" stroke-width="2.6"/>
<line x1="666.57" y1="1884" x2="666.57" y2="1891" stroke="#000" stroke-width="2.6"/>
<line x1="565.25" y1="1741.98" x2="572.25" y2="1741.98" stroke="#000" stroke-width="2.6"/>
<line x1="713.73" y1="1884" x2="713.73" y2="1891" stroke="#000" stroke-width="2.6"/>
<line x1="565.25" y1="1694.64" x2="572.25" y2="1694.64" stroke="#000" stroke-width="2.6"/>
<line x1="760.89" y1="1884" x2="760.89" y2="1891" stroke="#000" stroke-width="2.6"/>
<line x1="565.25" y1="1647.3" x2="572.25" y2="1647.3" stroke="#000" stroke-width="2.6"/>
<line x1="808.05" y1="1884" x2="808.05" y2="1891" stroke="#000" stroke-width="2.6"/>
<text x="550.8" y="1893.85" font-size="25" font-weight="bold" text-anchor="end" fill="#000">0</text>
<text x="550.8" y="1846.51" font-size="25" font-weight="bold" text-anchor="end" fill="#000">20</text>
<text x="550.8" y="1799.17" font-size="25" font-weight="bold" text-anchor="end" fill="#000">40</text>
<text x="550.8" y="1751.83" font-size="25" font-weight="bold" text-anchor="end" fill="#000">60</text>
<text x="550.8" y="1704.49" font-size="25" font-weight="bold" text-anchor="end" fill="#000">80</text>
<text x="550.8" y="1657.15" font-size="25" font-weight="bold" text-anchor="end" fill="#000">100</text>
<text x="571.95" y="1923.2" font-size="25" font-weight="bold" text-anchor="middle" fill="#000">0</text>
<text x="619.11" y="1923.2" font-size="25" font-weight="bold" text-anchor="middle" fill="#000">20</text>
<text x="666.27" y="1923.2" font-size="25" font-weight="bold" text-anchor="middle" fill="#000">40</text>
<text x="713.43" y="1923.2" font-size="25" font-weight="bold" text-anchor="middle" fill="#000">60</text>
<text x="760.59" y="1923.2" font-size="25" font-weight="bold" text-anchor="middle" fill="#000">80</text>
<text x="807.75" y="1923.2" font-size="25" font-weight="bold" text-anchor="middle" fill="#000">100</text>
<text x="579.9" y="1961" font-size="25" font-weight="bold" fill="#000">100%</text>
<rect x="647.1" y="1952.7" width="19" height="2.7" fill="#000"/>
<text x="669.4" y="1961" font-size="25" font-weight="bold" fill="#000">Specificity%</text>
<text transform="translate(489.1,1766) rotate(-90)" x="0" y="0" font-size="25" font-weight="bold" text-anchor="middle">Sensitivity%</text>
<polyline points="572.25,1884 572.25,1879.7 572.25,1875.39 572.25,1871.09 572.25,1866.79 572.25,1862.48 572.25,1858.18 572.25,1853.87 572.25,1849.57 572.25,1845.27 572.25,1840.96 572.25,1836.66 572.25,1832.36 572.25,1828.05 572.25,1823.75 572.25,1819.45 572.25,1815.14 572.25,1810.84 572.25,1806.53 572.25,1802.23 572.25,1797.93 572.25,1793.62 572.25,1789.32 572.25,1785.02 572.25,1780.71 572.25,1776.41 572.25,1772.11 572.25,1767.8 572.25,1763.5 572.25,1759.19 572.25,1754.89 572.25,1750.59 572.25,1746.28 572.25,1741.98 572.25,1737.68 572.25,1733.37 595.83,1733.37 595.83,1729.07 595.83,1724.77 595.83,1720.46 595.83,1716.16 595.83,1711.85 595.83,1707.55 595.83,1703.25 595.83,1698.94 595.83,1694.64 595.83,1690.34 595.83,1686.03 595.83,1681.73 595.83,1677.43 595.83,1673.12 595.83,1668.82 595.83,1664.51 595.83,1660.21 595.83,1655.91 595.83,1651.6 595.83,1647.3 619.41,1647.3 642.99,1647.3 666.57,1647.3 690.15,1647.3 713.73,1647.3 737.31,1647.3 760.89,1647.3 784.47,1647.3 808.05,1647.3" fill="none" stroke="#000" stroke-width="1.7"/>
<g fill="#000"><circle cx="572.25" cy="1884" r="3.7"/><circle cx="572.25" cy="1879.7" r="3.7"/><circle cx="572.25" cy="1875.39" r="3.7"/><circle cx="572.25" cy="1871.09" r="3.7"/><circle cx="572.25" cy="1866.79" r="3.7"/><circle cx="572.25" cy="1862.48" r="3.7"/><circle cx="572.25" cy="1858.18" r="3.7"/><circle cx="572.25" cy="1853.87" r="3.7"/><circle cx="572.25" cy="1849.57" r="3.7"/><circle cx="572.25" cy="1845.27" r="3.7"/><circle cx="572.25" cy="1840.96" r="3.7"/><circle cx="572.25" cy="1836.66" r="3.7"/><circle cx="572.25" cy="1832.36" r="3.7"/><circle cx="572.25" cy="1828.05" r="3.7"/><circle cx="572.25" cy="1823.75" r="3.7"/><circle cx="572.25" cy="1819.45" r="3.7"/><circle cx="572.25" cy="1815.14" r="3.7"/><circle cx="572.25" cy="1810.84" r="3.7"/><circle cx="572.25" cy="1806.53" r="3.7"/><circle cx="572.25" cy="1802.23" r="3.7"/><circle cx="572.25" cy="1797.93" r="3.7"/><circle cx="572.25" cy="1793.62" r="3.7"/><circle cx="572.25" cy="1789.32" r="3.7"/><circle cx="572.25" cy="1785.02" r="3.7"/><circle cx="572.25" cy="1780.71" r="3.7"/><circle cx="572.25" cy="1776.41" r="3.7"/><circle cx="572.25" cy="1772.11" r="3.7"/><circle cx="572.25" cy="1767.8" r="3.7"/><circle cx="572.25" cy="1763.5" r="3.7"/><circle cx="572.25" cy="1759.19" r="3.7"/><circle cx="572.25" cy="1754.89" r="3.7"/><circle cx="572.25" cy="1750.59" r="3.7"/><circle cx="572.25" cy="1746.28" r="3.7"/><circle cx="572.25" cy="1741.98" r="3.7"/><circle cx="572.25" cy="1737.68" r="3.7"/><circle cx="572.25" cy="1733.37" r="3.7"/><circle cx="595.83" cy="1733.37" r="3.7"/><circle cx="595.83" cy="1729.07" r="3.7"/><circle cx="595.83" cy="1724.77" r="3.7"/><circle cx="595.83" cy="1720.46" r="3.7"/><circle cx="595.83" cy="1716.16" r="3.7"/><circle cx="595.83" cy="1711.85" r="3.7"/><circle cx="595.83" cy="1707.55" r="3.7"/><circle cx="595.83" cy="1703.25" r="3.7"/><circle cx="595.83" cy="1698.94" r="3.7"/><circle cx="595.83" cy="1694.64" r="3.7"/><circle cx="595.83" cy="1690.34" r="3.7"/><circle cx="595.83" cy="1686.03" r="3.7"/><circle cx="595.83" cy="1681.73" r="3.7"/><circle cx="595.83" cy="1677.43" r="3.7"/><circle cx="595.83" cy="1673.12" r="3.7"/><circle cx="595.83" cy="1668.82" r="3.7"/><circle cx="595.83" cy="1664.51" r="3.7"/><circle cx="595.83" cy="1660.21" r="3.7"/><circle cx="595.83" cy="1655.91" r="3.7"/><circle cx="595.83" cy="1651.6" r="3.7"/><circle cx="595.83" cy="1647.3" r="3.7"/><circle cx="619.41" cy="1647.3" r="3.7"/><circle cx="642.99" cy="1647.3" r="3.7"/><circle cx="666.57" cy="1647.3" r="3.7"/><circle cx="690.15" cy="1647.3" r="3.7"/><circle cx="713.73" cy="1647.3" r="3.7"/><circle cx="737.31" cy="1647.3" r="3.7"/><circle cx="760.89" cy="1647.3" r="3.7"/><circle cx="784.47" cy="1647.3" r="3.7"/><circle cx="808.05" cy="1647.3" r="3.7"/></g>
<text x="1155.6" y="1582.3" font-size="25" font-weight="bold" text-anchor="middle" fill="#000">LGGs vs, other</text>
<text x="1155.6" y="1613.2" font-size="25" font-weight="bold" text-anchor="middle" fill="#000">glioma subtypes</text>
<line x1="1034.1" y1="1886.1" x2="1283.95" y2="1635.9" stroke="#ff0000" stroke-width="1.6" stroke-dasharray="3.9,2.6"/>
<line x1="1034.1" y1="1634.55" x2="1034.1" y2="1893.6" stroke="#000" stroke-width="2.7" stroke-linecap="butt"/>
<line x1="1026.6" y1="1886.1" x2="1285.3" y2="1886.1" stroke="#000" stroke-width="2.7"/>
<line x1="1026.6" y1="1886.1" x2="1034.1" y2="1886.1" stroke="#000" stroke-width="2.7"/>
<line x1="1034.1" y1="1886.1" x2="1034.1" y2="1893.6" stroke="#000" stroke-width="2.7"/>
<line x1="1026.6" y1="1836.06" x2="1034.1" y2="1836.06" stroke="#000" stroke-width="2.7"/>
<line x1="1084.07" y1="1886.1" x2="1084.07" y2="1893.6" stroke="#000" stroke-width="2.7"/>
<line x1="1026.6" y1="1786.02" x2="1034.1" y2="1786.02" stroke="#000" stroke-width="2.7"/>
<line x1="1134.04" y1="1886.1" x2="1134.04" y2="1893.6" stroke="#000" stroke-width="2.7"/>
<line x1="1026.6" y1="1735.98" x2="1034.1" y2="1735.98" stroke="#000" stroke-width="2.7"/>
<line x1="1184.01" y1="1886.1" x2="1184.01" y2="1893.6" stroke="#000" stroke-width="2.7"/>
<line x1="1026.6" y1="1685.94" x2="1034.1" y2="1685.94" stroke="#000" stroke-width="2.7"/>
<line x1="1233.98" y1="1886.1" x2="1233.98" y2="1893.6" stroke="#000" stroke-width="2.7"/>
<line x1="1026.6" y1="1635.9" x2="1034.1" y2="1635.9" stroke="#000" stroke-width="2.7"/>
<line x1="1283.95" y1="1886.1" x2="1283.95" y2="1893.6" stroke="#000" stroke-width="2.7"/>
<text x="1014.2" y="1895.95" font-size="25" font-weight="bold" text-anchor="end" fill="#000">0</text>
<text x="1014.2" y="1845.91" font-size="25" font-weight="bold" text-anchor="end" fill="#000">20</text>
<text x="1014.2" y="1795.87" font-size="25" font-weight="bold" text-anchor="end" fill="#000">40</text>
<text x="1014.2" y="1745.83" font-size="25" font-weight="bold" text-anchor="end" fill="#000">60</text>
<text x="1014.2" y="1695.79" font-size="25" font-weight="bold" text-anchor="end" fill="#000">80</text>
<text x="1014.2" y="1645.75" font-size="25" font-weight="bold" text-anchor="end" fill="#000">100</text>
<text x="1033.9" y="1921.6" font-size="25" font-weight="bold" text-anchor="middle" fill="#000">0</text>
<text x="1083.87" y="1921.6" font-size="25" font-weight="bold" text-anchor="middle" fill="#000">20</text>
<text x="1133.84" y="1921.6" font-size="25" font-weight="bold" text-anchor="middle" fill="#000">40</text>
<text x="1183.81" y="1921.6" font-size="25" font-weight="bold" text-anchor="middle" fill="#000">60</text>
<text x="1233.78" y="1921.6" font-size="25" font-weight="bold" text-anchor="middle" fill="#000">80</text>
<text x="1283.75" y="1921.6" font-size="25" font-weight="bold" text-anchor="middle" fill="#000">100</text>
<text x="1049" y="1960.8" font-size="25" font-weight="bold" fill="#000">100%</text>
<rect x="1116.2" y="1952.5" width="19" height="2.7" fill="#000"/>
<text x="1138.5" y="1960.8" font-size="25" font-weight="bold" fill="#000">Specificity%</text>
<text transform="translate(948,1760.5) rotate(-90)" x="0" y="0" font-size="25" font-weight="bold" text-anchor="middle">Sensitivity%</text>
<polyline points="1034.1,1886.1 1034.1,1880.99 1034.1,1875.89 1034.1,1870.78 1034.1,1865.68 1034.1,1860.57 1034.1,1855.46 1034.1,1850.36 1034.1,1845.25 1034.1,1840.14 1034.1,1835.04 1034.1,1829.93 1034.1,1824.83 1034.1,1819.72 1034.1,1814.61 1034.1,1809.51 1034.1,1804.4 1034.1,1799.3 1034.1,1794.19 1034.1,1789.08 1034.1,1783.98 1034.1,1778.87 1034.1,1773.77 1034.1,1768.66 1034.1,1763.55 1034.1,1758.45 1034.1,1753.34 1034.1,1748.23 1034.1,1743.13 1034.1,1738.02 1034.1,1732.92 1034.1,1727.81 1050.76,1727.81 1050.76,1722.7 1050.76,1717.6 1067.41,1717.6 1067.41,1712.49 1067.41,1707.39 1084.07,1707.39 1084.07,1702.28 1084.07,1697.17 1100.73,1697.17 1100.73,1692.07 1117.38,1692.07 1117.38,1686.96 1117.38,1681.86 1134.04,1681.86 1134.04,1676.75 1134.04,1671.64 1134.04,1666.54 1134.04,1661.43 1150.7,1661.43 1150.7,1656.32 1150.7,1651.22 1150.7,1646.11 1167.35,1646.11 1184.01,1646.11 1184.01,1641.01 1200.67,1641.01 1217.32,1641.01 1233.98,1641.01 1233.98,1635.9 1250.64,1635.9 1267.29,1635.9 1283.95,1635.9" fill="none" stroke="#000" stroke-width="1.7"/>
<g fill="#000"><circle cx="1034.1" cy="1886.1" r="4"/><circle cx="1034.1" cy="1880.99" r="4"/><circle cx="1034.1" cy="1875.89" r="4"/><circle cx="1034.1" cy="1870.78" r="4"/><circle cx="1034.1" cy="1865.68" r="4"/><circle cx="1034.1" cy="1860.57" r="4"/><circle cx="1034.1" cy="1855.46" r="4"/><circle cx="1034.1" cy="1850.36" r="4"/><circle cx="1034.1" cy="1845.25" r="4"/><circle cx="1034.1" cy="1840.14" r="4"/><circle cx="1034.1" cy="1835.04" r="4"/><circle cx="1034.1" cy="1829.93" r="4"/><circle cx="1034.1" cy="1824.83" r="4"/><circle cx="1034.1" cy="1819.72" r="4"/><circle cx="1034.1" cy="1814.61" r="4"/><circle cx="1034.1" cy="1809.51" r="4"/><circle cx="1034.1" cy="1804.4" r="4"/><circle cx="1034.1" cy="1799.3" r="4"/><circle cx="1034.1" cy="1794.19" r="4"/><circle cx="1034.1" cy="1789.08" r="4"/><circle cx="1034.1" cy="1783.98" r="4"/><circle cx="1034.1" cy="1778.87" r="4"/><circle cx="1034.1" cy="1773.77" r="4"/><circle cx="1034.1" cy="1768.66" r="4"/><circle cx="1034.1" cy="1763.55" r="4"/><circle cx="1034.1" cy="1758.45" r="4"/><circle cx="1034.1" cy="1753.34" r="4"/><circle cx="1034.1" cy="1748.23" r="4"/><circle cx="1034.1" cy="1743.13" r="4"/><circle cx="1034.1" cy="1738.02" r="4"/><circle cx="1034.1" cy="1732.92" r="4"/><circle cx="1034.1" cy="1727.81" r="4"/><circle cx="1050.76" cy="1727.81" r="4"/><circle cx="1050.76" cy="1722.7" r="4"/><circle cx="1050.76" cy="1717.6" r="4"/><circle cx="1067.41" cy="1717.6" r="4"/><circle cx="1067.41" cy="1712.49" r="4"/><circle cx="1067.41" cy="1707.39" r="4"/><circle cx="1084.07" cy="1707.39" r="4"/><circle cx="1084.07" cy="1702.28" r="4"/><circle cx="1084.07" cy="1697.17" r="4"/><circle cx="1100.73" cy="1697.17" r="4"/><circle cx="1100.73" cy="1692.07" r="4"/><circle cx="1117.38" cy="1692.07" r="4"/><circle cx="1117.38" cy="1686.96" r="4"/><circle cx="1117.38" cy="1681.86" r="4"/><circle cx="1134.04" cy="1681.86" r="4"/><circle cx="1134.04" cy="1676.75" r="4"/><circle cx="1134.04" cy="1671.64" r="4"/><circle cx="1134.04" cy="1666.54" r="4"/><circle cx="1134.04" cy="1661.43" r="4"/><circle cx="1150.7" cy="1661.43" r="4"/><circle cx="1150.7" cy="1656.32" r="4"/><circle cx="1150.7" cy="1651.22" r="4"/><circle cx="1150.7" cy="1646.11" r="4"/><circle cx="1167.35" cy="1646.11" r="4"/><circle cx="1184.01" cy="1646.11" r="4"/><circle cx="1184.01" cy="1641.01" r="4"/><circle cx="1200.67" cy="1641.01" r="4"/><circle cx="1217.32" cy="1641.01" r="4"/><circle cx="1233.98" cy="1641.01" r="4"/><circle cx="1233.98" cy="1635.9" r="4"/><circle cx="1250.64" cy="1635.9" r="4"/><circle cx="1267.29" cy="1635.9" r="4"/><circle cx="1283.95" cy="1635.9" r="4"/></g>
<text x="-0.8" y="2037.2" font-size="41" font-weight="bold" fill="#000">d</text>
<text x="48.5" y="2042" font-size="25" font-weight="bold" fill="#000">mir-106b-3p</text>
<text x="225.5" y="2080.6" font-size="25" font-weight="bold" text-anchor="middle" fill="#000">FGFR +HGGs vs, HC+the</text>
<text x="225.5" y="2111.3" font-size="25" font-weight="bold" text-anchor="middle" fill="#000">other glioma subtypes</text>
<line x1="102.4" y1="2433.65" x2="349.3" y2="2158.35" stroke="#ff0000" stroke-width="1.6" stroke-dasharray="3.9,2.6"/>
<line x1="102.4" y1="2157" x2="102.4" y2="2441.15" stroke="#000" stroke-width="2.7" stroke-linecap="butt"/>
<line x1="94.9" y1="2433.65" x2="350.65" y2="2433.65" stroke="#000" stroke-width="2.7"/>
<line x1="94.9" y1="2433.65" x2="102.4" y2="2433.65" stroke="#000" stroke-width="2.7"/>
<line x1="102.4" y1="2433.65" x2="102.4" y2="2441.15" stroke="#000" stroke-width="2.7"/>
<line x1="94.9" y1="2378.59" x2="102.4" y2="2378.59" stroke="#000" stroke-width="2.7"/>
<line x1="151.78" y1="2433.65" x2="151.78" y2="2441.15" stroke="#000" stroke-width="2.7"/>
<line x1="94.9" y1="2323.53" x2="102.4" y2="2323.53" stroke="#000" stroke-width="2.7"/>
<line x1="201.16" y1="2433.65" x2="201.16" y2="2441.15" stroke="#000" stroke-width="2.7"/>
<line x1="94.9" y1="2268.47" x2="102.4" y2="2268.47" stroke="#000" stroke-width="2.7"/>
<line x1="250.54" y1="2433.65" x2="250.54" y2="2441.15" stroke="#000" stroke-width="2.7"/>
<line x1="94.9" y1="2213.41" x2="102.4" y2="2213.41" stroke="#000" stroke-width="2.7"/>
<line x1="299.92" y1="2433.65" x2="299.92" y2="2441.15" stroke="#000" stroke-width="2.7"/>
<line x1="94.9" y1="2158.35" x2="102.4" y2="2158.35" stroke="#000" stroke-width="2.7"/>
<line x1="349.3" y1="2433.65" x2="349.3" y2="2441.15" stroke="#000" stroke-width="2.7"/>
<text x="80.8" y="2443.5" font-size="25" font-weight="bold" text-anchor="end" fill="#000">0</text>
<text x="80.8" y="2388.44" font-size="25" font-weight="bold" text-anchor="end" fill="#000">20</text>
<text x="80.8" y="2333.38" font-size="25" font-weight="bold" text-anchor="end" fill="#000">40</text>
<text x="80.8" y="2278.32" font-size="25" font-weight="bold" text-anchor="end" fill="#000">60</text>
<text x="80.8" y="2223.26" font-size="25" font-weight="bold" text-anchor="end" fill="#000">80</text>
<text x="80.8" y="2168.2" font-size="25" font-weight="bold" text-anchor="end" fill="#000">100</text>
<text x="101.8" y="2473.8" font-size="25" font-weight="bold" text-anchor="middle" fill="#000">0</text>
<text x="151.18" y="2473.8" font-size="25" font-weight="bold" text-anchor="middle" fill="#000">20</text>
<text x="200.56" y="2473.8" font-size="25" font-weight="bold" text-anchor="middle" fill="#000">40</text>
<text x="249.94" y="2473.8" font-size="25" font-weight="bold" text-anchor="middle" fill="#000">60</text>
<text x="299.32" y="2473.8" font-size="25" font-weight="bold" text-anchor="middle" fill="#000">80</text>
<text x="348.7" y="2473.8" font-size="25" font-weight="bold" text-anchor="middle" fill="#000">100</text>
<text x="106.9" y="2507.7" font-size="25" font-weight="bold" fill="#000">100%</text>
<rect x="174.1" y="2499.4" width="19" height="2.7" fill="#000"/>
<text x="196.4" y="2507.7" font-size="25" font-weight="bold" fill="#000">Specificity%</text>
<text transform="translate(20.3,2295) rotate(-90)" x="0" y="0" font-size="25" font-weight="bold" text-anchor="middle">Sensitivity%</text>
<polyline points="102.4,2433.65 102.4,2420.54 102.4,2407.43 102.4,2394.32 102.4,2381.21 102.4,2368.1 102.4,2354.99 102.4,2341.88 102.4,2328.77 102.4,2315.66 106.73,2315.66 111.06,2315.66 115.39,2315.66 115.39,2302.55 115.39,2289.45 115.39,2276.34 119.73,2276.34 119.73,2263.23 124.06,2263.23 124.06,2250.12 124.06,2237.01 128.39,2237.01 132.72,2237.01 137.05,2237.01 141.38,2237.01 145.72,2237.01 150.05,2237.01 154.38,2237.01 158.71,2237.01 158.71,2223.9 163.04,2223.9 163.04,2210.79 167.37,2210.79 167.37,2197.68 171.71,2197.68 176.04,2197.68 180.37,2197.68 184.7,2197.68 184.7,2184.57 189.03,2184.57 189.03,2171.46 193.36,2171.46 197.69,2171.46 197.69,2158.35 202.03,2158.35 206.36,2158.35 210.69,2158.35 215.02,2158.35 219.35,2158.35 223.68,2158.35 228.02,2158.35 232.35,2158.35 236.68,2158.35 241.01,2158.35 245.34,2158.35 249.67,2158.35 254.01,2158.35 258.34,2158.35 262.67,2158.35 267,2158.35 271.33,2158.35 275.66,2158.35 279.99,2158.35 284.33,2158.35 288.66,2158.35 292.99,2158.35 297.32,2158.35 301.65,2158.35 305.98,2158.35 310.32,2158.35 314.65,2158.35 318.98,2158.35 323.31,2158.35 327.64,2158.35 331.97,2158.35 336.31,2158.35 340.64,2158.35 344.97,2158.35 349.3,2158.35" fill="none" stroke="#000" stroke-width="1.4"/>
<g fill="#000"><circle cx="102.4" cy="2433.65" r="4.25"/><circle cx="102.4" cy="2420.54" r="4.25"/><circle cx="102.4" cy="2407.43" r="4.25"/><circle cx="102.4" cy="2394.32" r="4.25"/><circle cx="102.4" cy="2381.21" r="4.25"/><circle cx="102.4" cy="2368.1" r="4.25"/><circle cx="102.4" cy="2354.99" r="4.25"/><circle cx="102.4" cy="2341.88" r="4.25"/><circle cx="102.4" cy="2328.77" r="4.25"/><circle cx="102.4" cy="2315.66" r="4.25"/><circle cx="106.73" cy="2315.66" r="4.25"/><circle cx="111.06" cy="2315.66" r="4.25"/><circle cx="115.39" cy="2315.66" r="4.25"/><circle cx="115.39" cy="2302.55" r="4.25"/><circle cx="115.39" cy="2289.45" r="4.25"/><circle cx="115.39" cy="2276.34" r="4.25"/><circle cx="119.73" cy="2276.34" r="4.25"/><circle cx="119.73" cy="2263.23" r="4.25"/><circle cx="124.06" cy="2263.23" r="4.25"/><circle cx="124.06" cy="2250.12" r="4.25"/><circle cx="124.06" cy="2237.01" r="4.25"/><circle cx="128.39" cy="2237.01" r="4.25"/><circle cx="132.72" cy="2237.01" r="4.25"/><circle cx="137.05" cy="2237.01" r="4.25"/><circle cx="141.38" cy="2237.01" r="4.25"/><circle cx="145.72" cy="2237.01" r="4.25"/><circle cx="150.05" cy="2237.01" r="4.25"/><circle cx="154.38" cy="2237.01" r="4.25"/><circle cx="158.71" cy="2237.01" r="4.25"/><circle cx="158.71" cy="2223.9" r="4.25"/><circle cx="163.04" cy="2223.9" r="4.25"/><circle cx="163.04" cy="2210.79" r="4.25"/><circle cx="167.37" cy="2210.79" r="4.25"/><circle cx="167.37" cy="2197.68" r="4.25"/><circle cx="171.71" cy="2197.68" r="4.25"/><circle cx="176.04" cy="2197.68" r="4.25"/><circle cx="180.37" cy="2197.68" r="4.25"/><circle cx="184.7" cy="2197.68" r="4.25"/><circle cx="184.7" cy="2184.57" r="4.25"/><circle cx="189.03" cy="2184.57" r="4.25"/><circle cx="189.03" cy="2171.46" r="4.25"/><circle cx="193.36" cy="2171.46" r="4.25"/><circle cx="197.69" cy="2171.46" r="4.25"/><circle cx="197.69" cy="2158.35" r="4.25"/><circle cx="202.03" cy="2158.35" r="4.25"/><circle cx="206.36" cy="2158.35" r="4.25"/><circle cx="210.69" cy="2158.35" r="4.25"/><circle cx="215.02" cy="2158.35" r="4.25"/><circle cx="219.35" cy="2158.35" r="4.25"/><circle cx="223.68" cy="2158.35" r="4.25"/><circle cx="228.02" cy="2158.35" r="4.25"/><circle cx="232.35" cy="2158.35" r="4.25"/><circle cx="236.68" cy="2158.35" r="4.25"/><circle cx="241.01" cy="2158.35" r="4.25"/><circle cx="245.34" cy="2158.35" r="4.25"/><circle cx="249.67" cy="2158.35" r="4.25"/><circle cx="254.01" cy="2158.35" r="4.25"/><circle cx="258.34" cy="2158.35" r="4.25"/><circle cx="262.67" cy="2158.35" r="4.25"/><circle cx="267" cy="2158.35" r="4.25"/><circle cx="271.33" cy="2158.35" r="4.25"/><circle cx="275.66" cy="2158.35" r="4.25"/><circle cx="279.99" cy="2158.35" r="4.25"/><circle cx="284.33" cy="2158.35" r="4.25"/><circle cx="288.66" cy="2158.35" r="4.25"/><circle cx="292.99" cy="2158.35" r="4.25"/><circle cx="297.32" cy="2158.35" r="4.25"/><circle cx="301.65" cy="2158.35" r="4.25"/><circle cx="305.98" cy="2158.35" r="4.25"/><circle cx="310.32" cy="2158.35" r="4.25"/><circle cx="314.65" cy="2158.35" r="4.25"/><circle cx="318.98" cy="2158.35" r="4.25"/><circle cx="323.31" cy="2158.35" r="4.25"/><circle cx="327.64" cy="2158.35" r="4.25"/><circle cx="331.97" cy="2158.35" r="4.25"/><circle cx="336.31" cy="2158.35" r="4.25"/><circle cx="340.64" cy="2158.35" r="4.25"/><circle cx="344.97" cy="2158.35" r="4.25"/><circle cx="349.3" cy="2158.35" r="4.25"/></g>
<text x="466.6" y="2037.2" font-size="44" font-weight="bold" fill="#000">e</text>
<text x="522.9" y="2042" font-size="25" font-weight="bold" fill="#000">mir-21-5p</text>
<text x="709.6" y="2081" font-size="25" font-weight="bold" text-anchor="middle" fill="#000">HC +LGG +NF1 vs,</text>
<text x="712.8" y="2110" font-size="25" font-weight="bold" text-anchor="middle" fill="#000">Other glioma subtypes</text>
<line x1="573.25" y1="2431.65" x2="851.55" y2="2125.05" stroke="#ff0000" stroke-width="1.6" stroke-dasharray="3.9,2.6"/>
<line x1="573.25" y1="2123.7" x2="573.25" y2="2439.15" stroke="#000" stroke-width="2.7" stroke-linecap="butt"/>
<line x1="565.75" y1="2431.65" x2="852.9" y2="2431.65" stroke="#000" stroke-width="2.7"/>
<line x1="565.75" y1="2431.65" x2="573.25" y2="2431.65" stroke="#000" stroke-width="2.7"/>
<line x1="573.25" y1="2431.65" x2="573.25" y2="2439.15" stroke="#000" stroke-width="2.7"/>
<line x1="565.75" y1="2370.33" x2="573.25" y2="2370.33" stroke="#000" stroke-width="2.7"/>
<line x1="628.91" y1="2431.65" x2="628.91" y2="2439.15" stroke="#000" stroke-width="2.7"/>
<line x1="565.75" y1="2309.01" x2="573.25" y2="2309.01" stroke="#000" stroke-width="2.7"/>
<line x1="684.57" y1="2431.65" x2="684.57" y2="2439.15" stroke="#000" stroke-width="2.7"/>
<line x1="565.75" y1="2247.69" x2="573.25" y2="2247.69" stroke="#000" stroke-width="2.7"/>
<line x1="740.23" y1="2431.65" x2="740.23" y2="2439.15" stroke="#000" stroke-width="2.7"/>
<line x1="565.75" y1="2186.37" x2="573.25" y2="2186.37" stroke="#000" stroke-width="2.7"/>
<line x1="795.89" y1="2431.65" x2="795.89" y2="2439.15" stroke="#000" stroke-width="2.7"/>
<line x1="565.75" y1="2125.05" x2="573.25" y2="2125.05" stroke="#000" stroke-width="2.7"/>
<line x1="851.55" y1="2431.65" x2="851.55" y2="2439.15" stroke="#000" stroke-width="2.7"/>
<text x="551.2" y="2441.5" font-size="25" font-weight="bold" text-anchor="end" fill="#000">0</text>
<text x="551.2" y="2380.18" font-size="25" font-weight="bold" text-anchor="end" fill="#000">20</text>
<text x="551.2" y="2318.86" font-size="25" font-weight="bold" text-anchor="end" fill="#000">40</text>
<text x="551.2" y="2257.54" font-size="25" font-weight="bold" text-anchor="end" fill="#000">60</text>
<text x="551.2" y="2196.22" font-size="25" font-weight="bold" text-anchor="end" fill="#000">80</text>
<text x="551.2" y="2134.9" font-size="25" font-weight="bold" text-anchor="end" fill="#000">100</text>
<text x="574.05" y="2475" font-size="25" font-weight="bold" text-anchor="middle" fill="#000">0</text>
<text x="629.71" y="2475" font-size="25" font-weight="bold" text-anchor="middle" fill="#000">20</text>
<text x="685.37" y="2475" font-size="25" font-weight="bold" text-anchor="middle" fill="#000">40</text>
<text x="741.03" y="2475" font-size="25" font-weight="bold" text-anchor="middle" fill="#000">60</text>
<text x="796.69" y="2475" font-size="25" font-weight="bold" text-anchor="middle" fill="#000">80</text>
<text x="852.35" y="2475" font-size="25" font-weight="bold" text-anchor="middle" fill="#000">100</text>
<text x="594.2" y="2512.8" font-size="25" font-weight="bold" fill="#000">100%</text>
<rect x="661.4" y="2504.5" width="19" height="2.7" fill="#000"/>
<text x="683.7" y="2512.8" font-size="25" font-weight="bold" fill="#000">Specificity%</text>
<text transform="translate(489,2278.5) rotate(-90)" x="0" y="0" font-size="25" font-weight="bold" text-anchor="middle">Sensitivity%</text>
<polyline points="573.25,2431.65 573.25,2424.35 573.25,2417.05 573.25,2409.75 573.25,2402.45 573.25,2395.15 573.25,2387.85 573.25,2380.55 573.25,2373.25 573.25,2365.95 573.25,2358.65 573.25,2351.35 573.25,2344.05 573.25,2336.75 573.25,2329.45 573.25,2322.15 573.25,2314.85 573.25,2307.55 573.25,2300.25 573.25,2292.95 573.25,2285.65 573.25,2278.35 573.25,2271.05 573.25,2256.45 573.25,2249.15 581.44,2249.15 589.62,2249.15 597.81,2249.15 605.99,2249.15 605.99,2241.85 605.99,2234.55 614.18,2234.55 622.36,2234.55 622.36,2227.25 622.36,2219.95 622.36,2212.65 622.36,2205.35 630.55,2205.35 638.73,2205.35 646.92,2205.35 646.92,2198.05 646.92,2190.75 655.1,2190.75 655.1,2183.45 655.1,2176.15 663.29,2176.15 663.29,2168.85 671.47,2168.85 679.66,2168.85 687.84,2168.85 687.84,2161.55 696.03,2161.55 704.21,2161.55 712.4,2161.55 720.59,2161.55 728.77,2161.55 728.77,2154.25 736.96,2154.25 745.14,2154.25 753.33,2154.25 761.51,2154.25 769.7,2154.25 777.88,2154.25 786.07,2154.25 786.07,2146.95 794.25,2146.95 794.25,2139.65 802.44,2139.65 802.44,2132.35 810.62,2132.35 810.62,2125.05 818.81,2125.05 826.99,2125.05 835.18,2125.05 843.36,2125.05 851.55,2125.05" fill="none" stroke="#000" stroke-width="1.5"/>
<g fill="#000"><circle cx="573.25" cy="2431.65" r="4.3"/><circle cx="573.25" cy="2424.35" r="4.3"/><circle cx="573.25" cy="2417.05" r="4.3"/><circle cx="573.25" cy="2409.75" r="4.3"/><circle cx="573.25" cy="2402.45" r="4.3"/><circle cx="573.25" cy="2395.15" r="4.3"/><circle cx="573.25" cy="2387.85" r="4.3"/><circle cx="573.25" cy="2380.55" r="4.3"/><circle cx="573.25" cy="2373.25" r="4.3"/><circle cx="573.25" cy="2365.95" r="4.3"/><circle cx="573.25" cy="2358.65" r="4.3"/><circle cx="573.25" cy="2351.35" r="4.3"/><circle cx="573.25" cy="2344.05" r="4.3"/><circle cx="573.25" cy="2336.75" r="4.3"/><circle cx="573.25" cy="2329.45" r="4.3"/><circle cx="573.25" cy="2322.15" r="4.3"/><circle cx="573.25" cy="2314.85" r="4.3"/><circle cx="573.25" cy="2307.55" r="4.3"/><circle cx="573.25" cy="2300.25" r="4.3"/><circle cx="573.25" cy="2292.95" r="4.3"/><circle cx="573.25" cy="2285.65" r="4.3"/><circle cx="573.25" cy="2278.35" r="4.3"/><circle cx="573.25" cy="2271.05" r="4.3"/><circle cx="573.25" cy="2256.45" r="4.3"/><circle cx="573.25" cy="2249.15" r="4.3"/><circle cx="581.44" cy="2249.15" r="4.3"/><circle cx="589.62" cy="2249.15" r="4.3"/><circle cx="597.81" cy="2249.15" r="4.3"/><circle cx="605.99" cy="2249.15" r="4.3"/><circle cx="605.99" cy="2241.85" r="4.3"/><circle cx="605.99" cy="2234.55" r="4.3"/><circle cx="614.18" cy="2234.55" r="4.3"/><circle cx="622.36" cy="2234.55" r="4.3"/><circle cx="622.36" cy="2227.25" r="4.3"/><circle cx="622.36" cy="2219.95" r="4.3"/><circle cx="622.36" cy="2212.65" r="4.3"/><circle cx="622.36" cy="2205.35" r="4.3"/><circle cx="630.55" cy="2205.35" r="4.3"/><circle cx="638.73" cy="2205.35" r="4.3"/><circle cx="646.92" cy="2205.35" r="4.3"/><circle cx="646.92" cy="2198.05" r="4.3"/><circle cx="646.92" cy="2190.75" r="4.3"/><circle cx="655.1" cy="2190.75" r="4.3"/><circle cx="655.1" cy="2183.45" r="4.3"/><circle cx="655.1" cy="2176.15" r="4.3"/><circle cx="663.29" cy="2176.15" r="4.3"/><circle cx="663.29" cy="2168.85" r="4.3"/><circle cx="671.47" cy="2168.85" r="4.3"/><circle cx="679.66" cy="2168.85" r="4.3"/><circle cx="687.84" cy="2168.85" r="4.3"/><circle cx="687.84" cy="2161.55" r="4.3"/><circle cx="696.03" cy="2161.55" r="4.3"/><circle cx="704.21" cy="2161.55" r="4.3"/><circle cx="712.4" cy="2161.55" r="4.3"/><circle cx="720.59" cy="2161.55" r="4.3"/><circle cx="728.77" cy="2161.55" r="4.3"/><circle cx="728.77" cy="2154.25" r="4.3"/><circle cx="736.96" cy="2154.25" r="4.3"/><circle cx="745.14" cy="2154.25" r="4.3"/><circle cx="753.33" cy="2154.25" r="4.3"/><circle cx="761.51" cy="2154.25" r="4.3"/><circle cx="769.7" cy="2154.25" r="4.3"/><circle cx="777.88" cy="2154.25" r="4.3"/><circle cx="786.07" cy="2154.25" r="4.3"/><circle cx="786.07" cy="2146.95" r="4.3"/><circle cx="794.25" cy="2146.95" r="4.3"/><circle cx="794.25" cy="2139.65" r="4.3"/><circle cx="802.44" cy="2139.65" r="4.3"/><circle cx="802.44" cy="2132.35" r="4.3"/><circle cx="810.62" cy="2132.35" r="4.3"/><circle cx="810.62" cy="2125.05" r="4.3"/><circle cx="818.81" cy="2125.05" r="4.3"/><circle cx="826.99" cy="2125.05" r="4.3"/><circle cx="835.18" cy="2125.05" r="4.3"/><circle cx="843.36" cy="2125.05" r="4.3"/><circle cx="851.55" cy="2125.05" r="4.3"/></g>
</svg>
</body></html>
